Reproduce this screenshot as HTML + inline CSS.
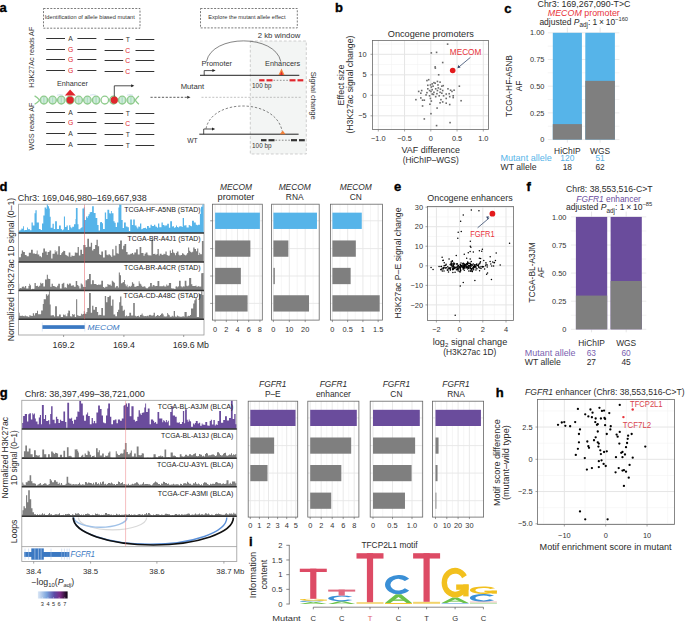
<!DOCTYPE html>
<html><head><meta charset="utf-8"><title>Figure</title>
<style>
html,body{margin:0;padding:0;background:#fff;}
body{width:685px;height:621px;overflow:hidden;}
svg{display:block;font-family:"Liberation Sans",sans-serif;}
</style></head>
<body>
<svg width="685" height="621" viewBox="0 0 685 621">
<rect width="685" height="621" fill="#fff"/>
<text x="-0.50" y="12.00" font-size="13" font-weight="bold" fill="#000" stroke="#000" stroke-width="0.35">a</text>
<rect x="43.50" y="8.50" width="96.50" height="19.70" fill="none" stroke="#444" stroke-width="0.7" stroke-dasharray="2 1.4"/>
<text x="44.80" y="19.00" font-size="4.6" fill="#333" textLength="90.00" lengthAdjust="spacingAndGlyphs">Identification of allele biased mutant</text>
<rect x="200.50" y="8.50" width="96.80" height="19.40" fill="none" stroke="#444" stroke-width="0.7" stroke-dasharray="2 1.4"/>
<text x="208.30" y="19.00" font-size="4.6" fill="#333" textLength="77.20" lengthAdjust="spacingAndGlyphs">Explore the mutant allele effect</text>
<text x="34.20" y="57.20" font-size="7.4" text-anchor="middle" fill="#333" textLength="61.00" lengthAdjust="spacingAndGlyphs" transform="rotate(-90 34.20 57.20)">H3K27Ac reads AF</text>
<text x="34.20" y="126.60" font-size="7.4" text-anchor="middle" fill="#333" textLength="48.00" lengthAdjust="spacingAndGlyphs" transform="rotate(-90 34.20 126.60)">WGS reads AF</text>
<line x1="46.20" y1="38.50" x2="65.00" y2="38.50" stroke="#333" stroke-width="1.0"/>
<line x1="77.40" y1="38.50" x2="96.40" y2="38.50" stroke="#333" stroke-width="1.0"/>
<line x1="104.60" y1="39.50" x2="123.20" y2="39.50" stroke="#333" stroke-width="1.0"/>
<line x1="135.50" y1="39.50" x2="154.30" y2="39.50" stroke="#333" stroke-width="1.0"/>
<text x="70.60" y="41.00" font-size="6.8" text-anchor="middle" fill="#333">A</text>
<text x="127.80" y="42.00" font-size="6.8" text-anchor="middle" fill="#333">T</text>
<line x1="46.20" y1="49.50" x2="65.00" y2="49.50" stroke="#333" stroke-width="1.0"/>
<line x1="77.40" y1="49.50" x2="96.40" y2="49.50" stroke="#333" stroke-width="1.0"/>
<line x1="104.60" y1="50.50" x2="123.20" y2="50.50" stroke="#333" stroke-width="1.0"/>
<line x1="135.50" y1="50.50" x2="154.30" y2="50.50" stroke="#333" stroke-width="1.0"/>
<text x="70.60" y="52.00" font-size="6.8" text-anchor="middle" fill="#e0262d">G</text>
<text x="127.80" y="53.00" font-size="6.8" text-anchor="middle" fill="#e0262d">C</text>
<line x1="46.20" y1="59.50" x2="65.00" y2="59.50" stroke="#333" stroke-width="1.0"/>
<line x1="77.40" y1="59.50" x2="96.40" y2="59.50" stroke="#333" stroke-width="1.0"/>
<line x1="104.60" y1="60.50" x2="123.20" y2="60.50" stroke="#333" stroke-width="1.0"/>
<line x1="135.50" y1="60.50" x2="154.30" y2="60.50" stroke="#333" stroke-width="1.0"/>
<text x="70.60" y="62.00" font-size="6.8" text-anchor="middle" fill="#e0262d">G</text>
<text x="127.80" y="63.00" font-size="6.8" text-anchor="middle" fill="#e0262d">C</text>
<line x1="46.20" y1="70.50" x2="65.00" y2="70.50" stroke="#333" stroke-width="1.0"/>
<line x1="77.40" y1="70.50" x2="96.40" y2="70.50" stroke="#333" stroke-width="1.0"/>
<line x1="104.60" y1="71.50" x2="123.20" y2="71.50" stroke="#333" stroke-width="1.0"/>
<line x1="135.50" y1="71.50" x2="154.30" y2="71.50" stroke="#333" stroke-width="1.0"/>
<text x="70.60" y="73.00" font-size="6.8" text-anchor="middle" fill="#e0262d">G</text>
<text x="127.80" y="74.00" font-size="6.8" text-anchor="middle" fill="#e0262d">C</text>
<line x1="46.20" y1="112.50" x2="65.00" y2="112.50" stroke="#333" stroke-width="1.0"/>
<line x1="77.40" y1="112.50" x2="96.40" y2="112.50" stroke="#333" stroke-width="1.0"/>
<line x1="104.60" y1="113.50" x2="123.20" y2="113.50" stroke="#333" stroke-width="1.0"/>
<line x1="135.50" y1="113.50" x2="154.30" y2="113.50" stroke="#333" stroke-width="1.0"/>
<text x="70.60" y="115.00" font-size="6.8" text-anchor="middle" fill="#333">A</text>
<text x="127.80" y="116.00" font-size="6.8" text-anchor="middle" fill="#333">T</text>
<line x1="46.20" y1="122.50" x2="65.00" y2="122.50" stroke="#333" stroke-width="1.0"/>
<line x1="77.40" y1="122.50" x2="96.40" y2="122.50" stroke="#333" stroke-width="1.0"/>
<line x1="104.60" y1="123.50" x2="123.20" y2="123.50" stroke="#333" stroke-width="1.0"/>
<line x1="135.50" y1="123.50" x2="154.30" y2="123.50" stroke="#333" stroke-width="1.0"/>
<text x="70.60" y="125.00" font-size="6.8" text-anchor="middle" fill="#e0262d">G</text>
<text x="127.80" y="126.00" font-size="6.8" text-anchor="middle" fill="#e0262d">C</text>
<line x1="46.20" y1="133.50" x2="65.00" y2="133.50" stroke="#333" stroke-width="1.0"/>
<line x1="77.40" y1="133.50" x2="96.40" y2="133.50" stroke="#333" stroke-width="1.0"/>
<line x1="104.60" y1="134.50" x2="123.20" y2="134.50" stroke="#333" stroke-width="1.0"/>
<line x1="135.50" y1="134.50" x2="154.30" y2="134.50" stroke="#333" stroke-width="1.0"/>
<text x="70.60" y="136.00" font-size="6.8" text-anchor="middle" fill="#333">A</text>
<text x="127.80" y="137.00" font-size="6.8" text-anchor="middle" fill="#333">T</text>
<line x1="46.20" y1="144.50" x2="65.00" y2="144.50" stroke="#333" stroke-width="1.0"/>
<line x1="77.40" y1="144.50" x2="96.40" y2="144.50" stroke="#333" stroke-width="1.0"/>
<line x1="104.60" y1="145.50" x2="123.20" y2="145.50" stroke="#333" stroke-width="1.0"/>
<line x1="135.50" y1="145.50" x2="154.30" y2="145.50" stroke="#333" stroke-width="1.0"/>
<text x="70.60" y="147.00" font-size="6.8" text-anchor="middle" fill="#333">A</text>
<text x="127.80" y="148.00" font-size="6.8" text-anchor="middle" fill="#333">T</text>
<text x="72.40" y="86.20" font-size="7.4" text-anchor="middle" fill="#333" textLength="31.00" lengthAdjust="spacingAndGlyphs">Enhancer</text>
<ellipse cx="43.90" cy="100.1" rx="3.75" ry="3.9" fill="#bfe4cc" stroke="#8fcb8c" stroke-width="1.3"/>
<line x1="42.50" y1="97.50" x2="42.50" y2="102.70" stroke="#e6f5ea" stroke-width="0.6"/>
<line x1="43.90" y1="97.50" x2="43.90" y2="102.70" stroke="#9fd6c2" stroke-width="0.6"/>
<line x1="45.30" y1="97.50" x2="45.30" y2="102.70" stroke="#e6f5ea" stroke-width="0.6"/>
<ellipse cx="52.60" cy="100.1" rx="3.75" ry="3.9" fill="#bfe4cc" stroke="#8fcb8c" stroke-width="1.3"/>
<line x1="51.20" y1="97.50" x2="51.20" y2="102.70" stroke="#e6f5ea" stroke-width="0.6"/>
<line x1="52.60" y1="97.50" x2="52.60" y2="102.70" stroke="#9fd6c2" stroke-width="0.6"/>
<line x1="54.00" y1="97.50" x2="54.00" y2="102.70" stroke="#e6f5ea" stroke-width="0.6"/>
<ellipse cx="61.30" cy="100.1" rx="3.75" ry="3.9" fill="#bfe4cc" stroke="#8fcb8c" stroke-width="1.3"/>
<line x1="59.90" y1="97.50" x2="59.90" y2="102.70" stroke="#e6f5ea" stroke-width="0.6"/>
<line x1="61.30" y1="97.50" x2="61.30" y2="102.70" stroke="#9fd6c2" stroke-width="0.6"/>
<line x1="62.70" y1="97.50" x2="62.70" y2="102.70" stroke="#e6f5ea" stroke-width="0.6"/>
<ellipse cx="70.00" cy="100.1" rx="3.75" ry="3.9" fill="#bfe4cc" stroke="#8fcb8c" stroke-width="1.3"/>
<line x1="68.60" y1="97.50" x2="68.60" y2="102.70" stroke="#e6f5ea" stroke-width="0.6"/>
<line x1="70.00" y1="97.50" x2="70.00" y2="102.70" stroke="#9fd6c2" stroke-width="0.6"/>
<line x1="71.40" y1="97.50" x2="71.40" y2="102.70" stroke="#e6f5ea" stroke-width="0.6"/>
<ellipse cx="78.70" cy="100.1" rx="3.75" ry="3.9" fill="#bfe4cc" stroke="#8fcb8c" stroke-width="1.3"/>
<line x1="77.30" y1="97.50" x2="77.30" y2="102.70" stroke="#e6f5ea" stroke-width="0.6"/>
<line x1="78.70" y1="97.50" x2="78.70" y2="102.70" stroke="#9fd6c2" stroke-width="0.6"/>
<line x1="80.10" y1="97.50" x2="80.10" y2="102.70" stroke="#e6f5ea" stroke-width="0.6"/>
<ellipse cx="87.40" cy="100.1" rx="3.75" ry="3.9" fill="#bfe4cc" stroke="#8fcb8c" stroke-width="1.3"/>
<line x1="86.00" y1="97.50" x2="86.00" y2="102.70" stroke="#e6f5ea" stroke-width="0.6"/>
<line x1="87.40" y1="97.50" x2="87.40" y2="102.70" stroke="#9fd6c2" stroke-width="0.6"/>
<line x1="88.80" y1="97.50" x2="88.80" y2="102.70" stroke="#e6f5ea" stroke-width="0.6"/>
<ellipse cx="96.10" cy="100.1" rx="3.75" ry="3.9" fill="#bfe4cc" stroke="#8fcb8c" stroke-width="1.3"/>
<line x1="94.70" y1="97.50" x2="94.70" y2="102.70" stroke="#e6f5ea" stroke-width="0.6"/>
<line x1="96.10" y1="97.50" x2="96.10" y2="102.70" stroke="#9fd6c2" stroke-width="0.6"/>
<line x1="97.50" y1="97.50" x2="97.50" y2="102.70" stroke="#e6f5ea" stroke-width="0.6"/>
<ellipse cx="104.80" cy="100.1" rx="3.75" ry="3.9" fill="#ffffff" stroke="#8fcb8c" stroke-width="1.3"/>
<ellipse cx="113.50" cy="100.1" rx="3.75" ry="3.9" fill="#bfe4cc" stroke="#8fcb8c" stroke-width="1.3"/>
<line x1="112.10" y1="97.50" x2="112.10" y2="102.70" stroke="#e6f5ea" stroke-width="0.6"/>
<line x1="113.50" y1="97.50" x2="113.50" y2="102.70" stroke="#9fd6c2" stroke-width="0.6"/>
<line x1="114.90" y1="97.50" x2="114.90" y2="102.70" stroke="#e6f5ea" stroke-width="0.6"/>
<ellipse cx="122.20" cy="100.1" rx="3.75" ry="3.9" fill="#bfe4cc" stroke="#8fcb8c" stroke-width="1.3"/>
<line x1="120.80" y1="97.50" x2="120.80" y2="102.70" stroke="#e6f5ea" stroke-width="0.6"/>
<line x1="122.20" y1="97.50" x2="122.20" y2="102.70" stroke="#9fd6c2" stroke-width="0.6"/>
<line x1="123.60" y1="97.50" x2="123.60" y2="102.70" stroke="#e6f5ea" stroke-width="0.6"/>
<ellipse cx="130.90" cy="100.1" rx="3.75" ry="3.9" fill="#bfe4cc" stroke="#8fcb8c" stroke-width="1.3"/>
<line x1="129.50" y1="97.50" x2="129.50" y2="102.70" stroke="#e6f5ea" stroke-width="0.6"/>
<line x1="130.90" y1="97.50" x2="130.90" y2="102.70" stroke="#9fd6c2" stroke-width="0.6"/>
<line x1="132.30" y1="97.50" x2="132.30" y2="102.70" stroke="#e6f5ea" stroke-width="0.6"/>
<path d="M34.6 95.9 Q37.6 97.6 39.6 100.1 Q37.6 102.6 34.6 104.3" fill="none" stroke="#8fcb8c" stroke-width="1.3"/>
<path d="M138.9 95.9 Q136.9 97.6 135.2 100.1 Q136.9 102.6 138.9 104.3" fill="none" stroke="#8fcb8c" stroke-width="1.3"/>
<path d="M57 95.2 Q60 94.2 63 95.2" fill="none" stroke="#b9cfe6" stroke-width="0.6"/>
<path d="M90 95.2 Q93 94.2 96 95.2" fill="none" stroke="#b9cfe6" stroke-width="0.6"/>
<path d="M127 95.2 Q130 94.2 133 95.2" fill="none" stroke="#b9cfe6" stroke-width="0.6"/>
<path d="M70.1 89.6 L64.9 95.6 L75.7 95.6 Z" fill="#e0262d"/>
<circle cx="70.10" cy="100.10" r="3.6" fill="#e0262d"/>
<circle cx="114.30" cy="100.10" r="3.6" fill="#e0262d"/>
<path d="M114.3 96.5 L114.3 85.8 L132.5 85.8" fill="none" stroke="#222" stroke-width="0.8"/>
<path d="M134.3 85.8 L131.2 84.3 L131.2 87.3 Z" fill="#222"/>
<line x1="150.50" y1="97.30" x2="187.50" y2="97.30" stroke="#333" stroke-width="0.8" stroke-dasharray="2.2 1.6"/>
<path d="M190.5 97.3 L187.2 95.8 L187.2 98.8 Z" fill="#333"/>
<rect x="250.30" y="41.00" width="56.00" height="113.00" fill="#f3f5f4" stroke="#bbb" stroke-width="0.7" stroke-dasharray="2.8 2"/>
<line x1="201.50" y1="97.30" x2="301.00" y2="97.30" stroke="#999" stroke-width="0.6" stroke-dasharray="2 1.6"/>
<text x="279.00" y="38.30" font-size="7.4" text-anchor="middle" fill="#333" textLength="42.50" lengthAdjust="spacingAndGlyphs">2 kb window</text>
<text x="310.80" y="95.80" font-size="7.2" text-anchor="middle" fill="#333" textLength="48.00" lengthAdjust="spacingAndGlyphs" transform="rotate(90 310.80 95.80)">Signal change</text>
<text x="192.40" y="89.00" font-size="7.2" text-anchor="middle" fill="#333" textLength="23.50" lengthAdjust="spacingAndGlyphs">Mutant</text>
<text x="192.40" y="143.30" font-size="7.2" text-anchor="middle" fill="#333" textLength="10.50" lengthAdjust="spacingAndGlyphs">WT</text>
<text x="216.80" y="65.80" font-size="7.4" text-anchor="middle" fill="#333" textLength="30.50" lengthAdjust="spacingAndGlyphs">Promoter</text>
<text x="282.60" y="65.80" font-size="7.4" text-anchor="middle" fill="#333" textLength="35.00" lengthAdjust="spacingAndGlyphs">Enhancers</text>
<path d="M206.5 61.5 C 212 34, 275 34, 280.8 61.5" fill="none" stroke="#333" stroke-width="0.6"/>
<line x1="200.00" y1="75.30" x2="299.30" y2="75.30" stroke="#222" stroke-width="1.0"/>
<path d="M204.2 75.3 L204.2 70.6 L213.2 70.6" fill="none" stroke="#222" stroke-width="0.8"/>
<path d="M215.6 70.6 L212.4 69.1 L212.4 72.1 Z" fill="#222"/>
<path d="M281.5 68.5 L278.5 75.0 L284.5 75.0 Z" fill="#f0813a"/>
<path d="M281.5 71.2 L280.1 75.0 L282.9 75.0 Z" fill="#e0262d"/>
<line x1="259.20" y1="80.30" x2="264.50" y2="80.30" stroke="#e0262d" stroke-width="2.2"/>
<line x1="266.50" y1="80.30" x2="272.50" y2="80.30" stroke="#e0262d" stroke-width="2.2"/>
<line x1="289.50" y1="80.30" x2="295.50" y2="80.30" stroke="#e0262d" stroke-width="2.2"/>
<line x1="297.50" y1="80.30" x2="303.30" y2="80.30" stroke="#e0262d" stroke-width="2.2"/>
<line x1="273.50" y1="80.30" x2="288.50" y2="80.30" stroke="#666" stroke-width="0.7" stroke-dasharray="1.6 1.6"/>
<text x="261.80" y="87.80" font-size="6.4" text-anchor="middle" fill="#333" textLength="19.50" lengthAdjust="spacingAndGlyphs">100 bp</text>
<path d="M206.0 128.7 C 212 98, 276 98, 282.2 131.4" fill="none" stroke="#333" stroke-width="0.6" stroke-dasharray="2.4 1.8"/>
<line x1="199.30" y1="134.20" x2="298.60" y2="134.20" stroke="#222" stroke-width="1.0"/>
<path d="M203.7 134.2 L203.7 129.0 L212.8 129.0" fill="none" stroke="#222" stroke-width="0.8"/>
<path d="M215.2 129.0 L212.0 127.5 L212.0 130.5 Z" fill="#222"/>
<path d="M282.7 130.6 L279.8 134.2 L285.6 134.2 Z" fill="#f0813a"/>
<line x1="261.00" y1="140.20" x2="266.50" y2="140.20" stroke="#333" stroke-width="2.2"/>
<line x1="268.50" y1="140.20" x2="274.50" y2="140.20" stroke="#333" stroke-width="2.2"/>
<line x1="291.00" y1="140.20" x2="297.00" y2="140.20" stroke="#333" stroke-width="2.2"/>
<line x1="299.00" y1="140.20" x2="304.80" y2="140.20" stroke="#333" stroke-width="2.2"/>
<line x1="275.50" y1="140.20" x2="290.00" y2="140.20" stroke="#555" stroke-width="0.7" stroke-dasharray="1.6 1.6"/>
<text x="261.80" y="147.60" font-size="6.4" text-anchor="middle" fill="#333" textLength="19.50" lengthAdjust="spacingAndGlyphs">100 bp</text>
<text x="335.00" y="12.20" font-size="13" font-weight="bold" fill="#000" stroke="#000" stroke-width="0.35">b</text>
<text x="430.80" y="36.80" font-size="8.8" text-anchor="middle" fill="#2b2b2b" textLength="86.00" lengthAdjust="spacingAndGlyphs">Oncogene promoters</text>
<rect x="372.50" y="40.50" width="116.00" height="89.00" fill="#fff"/>
<line x1="391.43" y1="40.50" x2="391.43" y2="129.50" stroke="#f2f2f2" stroke-width="0.6"/>
<line x1="417.68" y1="40.50" x2="417.68" y2="129.50" stroke="#f2f2f2" stroke-width="0.6"/>
<line x1="443.93" y1="40.50" x2="443.93" y2="129.50" stroke="#f2f2f2" stroke-width="0.6"/>
<line x1="470.18" y1="40.50" x2="470.18" y2="129.50" stroke="#f2f2f2" stroke-width="0.6"/>
<line x1="372.50" y1="44.05" x2="488.50" y2="44.05" stroke="#f2f2f2" stroke-width="0.6"/>
<line x1="372.50" y1="64.55" x2="488.50" y2="64.55" stroke="#f2f2f2" stroke-width="0.6"/>
<line x1="372.50" y1="85.05" x2="488.50" y2="85.05" stroke="#f2f2f2" stroke-width="0.6"/>
<line x1="372.50" y1="105.55" x2="488.50" y2="105.55" stroke="#f2f2f2" stroke-width="0.6"/>
<line x1="372.50" y1="126.05" x2="488.50" y2="126.05" stroke="#f2f2f2" stroke-width="0.6"/>
<line x1="378.30" y1="40.50" x2="378.30" y2="129.50" stroke="#e5e5e5" stroke-width="1.0"/>
<line x1="404.55" y1="40.50" x2="404.55" y2="129.50" stroke="#e5e5e5" stroke-width="1.0"/>
<line x1="430.80" y1="40.50" x2="430.80" y2="129.50" stroke="#e5e5e5" stroke-width="1.0"/>
<line x1="457.05" y1="40.50" x2="457.05" y2="129.50" stroke="#e5e5e5" stroke-width="1.0"/>
<line x1="483.30" y1="40.50" x2="483.30" y2="129.50" stroke="#e5e5e5" stroke-width="1.0"/>
<line x1="372.50" y1="54.30" x2="488.50" y2="54.30" stroke="#e5e5e5" stroke-width="1.0"/>
<line x1="372.50" y1="74.80" x2="488.50" y2="74.80" stroke="#e5e5e5" stroke-width="1.0"/>
<line x1="372.50" y1="95.30" x2="488.50" y2="95.30" stroke="#e5e5e5" stroke-width="1.0"/>
<line x1="372.50" y1="115.80" x2="488.50" y2="115.80" stroke="#e5e5e5" stroke-width="1.0"/>
<rect x="446.81" y="43.33" width="1.60" height="1.60" fill="#6b6b6b"/>
<rect x="430.52" y="52.09" width="1.60" height="1.60" fill="#6b6b6b"/>
<rect x="435.77" y="51.57" width="1.60" height="1.60" fill="#6b6b6b"/>
<rect x="441.90" y="61.73" width="1.60" height="1.60" fill="#6b6b6b"/>
<rect x="434.37" y="66.11" width="1.60" height="1.60" fill="#6b6b6b"/>
<rect x="434.55" y="67.33" width="1.60" height="1.60" fill="#6b6b6b"/>
<rect x="437.88" y="73.99" width="1.60" height="1.60" fill="#6b6b6b"/>
<rect x="426.14" y="79.77" width="1.60" height="1.60" fill="#6b6b6b"/>
<rect x="427.89" y="78.90" width="1.60" height="1.60" fill="#6b6b6b"/>
<rect x="429.64" y="84.15" width="1.60" height="1.60" fill="#6b6b6b"/>
<rect x="431.39" y="83.10" width="1.60" height="1.60" fill="#6b6b6b"/>
<rect x="434.37" y="82.40" width="1.60" height="1.60" fill="#6b6b6b"/>
<rect x="436.65" y="80.65" width="1.60" height="1.60" fill="#6b6b6b"/>
<rect x="439.28" y="81.35" width="1.60" height="1.60" fill="#6b6b6b"/>
<rect x="430.52" y="86.25" width="1.60" height="1.60" fill="#6b6b6b"/>
<rect x="432.27" y="85.38" width="1.60" height="1.60" fill="#6b6b6b"/>
<rect x="434.90" y="88.01" width="1.60" height="1.60" fill="#6b6b6b"/>
<rect x="437.53" y="87.13" width="1.60" height="1.60" fill="#6b6b6b"/>
<rect x="441.03" y="85.38" width="1.60" height="1.60" fill="#6b6b6b"/>
<rect x="442.43" y="84.85" width="1.60" height="1.60" fill="#6b6b6b"/>
<rect x="427.01" y="88.01" width="1.60" height="1.60" fill="#6b6b6b"/>
<rect x="428.77" y="89.76" width="1.60" height="1.60" fill="#6b6b6b"/>
<rect x="431.39" y="88.88" width="1.60" height="1.60" fill="#6b6b6b"/>
<rect x="433.15" y="91.51" width="1.60" height="1.60" fill="#6b6b6b"/>
<rect x="436.65" y="89.76" width="1.60" height="1.60" fill="#6b6b6b"/>
<rect x="439.28" y="91.51" width="1.60" height="1.60" fill="#6b6b6b"/>
<rect x="441.90" y="89.76" width="1.60" height="1.60" fill="#6b6b6b"/>
<rect x="447.16" y="88.01" width="1.60" height="1.60" fill="#6b6b6b"/>
<rect x="449.79" y="89.41" width="1.60" height="1.60" fill="#6b6b6b"/>
<rect x="453.29" y="89.41" width="1.60" height="1.60" fill="#6b6b6b"/>
<rect x="458.55" y="85.38" width="1.60" height="1.60" fill="#6b6b6b"/>
<rect x="417.90" y="90.63" width="1.60" height="1.60" fill="#6b6b6b"/>
<rect x="420.88" y="89.76" width="1.60" height="1.60" fill="#6b6b6b"/>
<rect x="420.01" y="92.39" width="1.60" height="1.60" fill="#6b6b6b"/>
<rect x="425.26" y="94.14" width="1.60" height="1.60" fill="#6b6b6b"/>
<rect x="428.77" y="95.01" width="1.60" height="1.60" fill="#6b6b6b"/>
<rect x="431.39" y="93.26" width="1.60" height="1.60" fill="#6b6b6b"/>
<rect x="434.90" y="95.89" width="1.60" height="1.60" fill="#6b6b6b"/>
<rect x="438.40" y="95.01" width="1.60" height="1.60" fill="#6b6b6b"/>
<rect x="441.03" y="92.39" width="1.60" height="1.60" fill="#6b6b6b"/>
<rect x="445.41" y="93.26" width="1.60" height="1.60" fill="#6b6b6b"/>
<rect x="448.91" y="95.89" width="1.60" height="1.60" fill="#6b6b6b"/>
<rect x="452.42" y="95.01" width="1.60" height="1.60" fill="#6b6b6b"/>
<rect x="452.42" y="96.77" width="1.60" height="1.60" fill="#6b6b6b"/>
<rect x="415.10" y="98.87" width="1.60" height="1.60" fill="#6b6b6b"/>
<rect x="420.01" y="97.12" width="1.60" height="1.60" fill="#6b6b6b"/>
<rect x="421.76" y="99.39" width="1.60" height="1.60" fill="#6b6b6b"/>
<rect x="423.51" y="99.39" width="1.60" height="1.60" fill="#6b6b6b"/>
<rect x="429.64" y="97.64" width="1.60" height="1.60" fill="#6b6b6b"/>
<rect x="430.52" y="100.27" width="1.60" height="1.60" fill="#6b6b6b"/>
<rect x="440.15" y="98.87" width="1.60" height="1.60" fill="#6b6b6b"/>
<rect x="441.90" y="101.15" width="1.60" height="1.60" fill="#6b6b6b"/>
<rect x="445.41" y="97.64" width="1.60" height="1.60" fill="#6b6b6b"/>
<rect x="439.28" y="102.02" width="1.60" height="1.60" fill="#6b6b6b"/>
<rect x="445.41" y="102.37" width="1.60" height="1.60" fill="#6b6b6b"/>
<rect x="448.91" y="103.77" width="1.60" height="1.60" fill="#6b6b6b"/>
<rect x="460.30" y="99.92" width="1.60" height="1.60" fill="#6b6b6b"/>
<rect x="421.76" y="105.17" width="1.60" height="1.60" fill="#6b6b6b"/>
<rect x="429.12" y="103.42" width="1.60" height="1.60" fill="#6b6b6b"/>
<rect x="436.30" y="107.28" width="1.60" height="1.60" fill="#6b6b6b"/>
<rect x="430.17" y="112.88" width="1.60" height="1.60" fill="#6b6b6b"/>
<rect x="423.51" y="118.14" width="1.60" height="1.60" fill="#6b6b6b"/>
<rect x="449.26" y="121.82" width="1.60" height="1.60" fill="#6b6b6b"/>
<rect x="435.77" y="124.80" width="1.60" height="1.60" fill="#6b6b6b"/>
<rect x="427.01" y="84.50" width="1.60" height="1.60" fill="#6b6b6b"/>
<rect x="433.15" y="81.87" width="1.60" height="1.60" fill="#6b6b6b"/>
<rect x="437.17" y="84.15" width="1.60" height="1.60" fill="#6b6b6b"/>
<rect x="439.63" y="88.36" width="1.60" height="1.60" fill="#6b6b6b"/>
<rect x="430.17" y="90.63" width="1.60" height="1.60" fill="#6b6b6b"/>
<rect x="432.62" y="93.61" width="1.60" height="1.60" fill="#6b6b6b"/>
<rect x="426.14" y="91.86" width="1.60" height="1.60" fill="#6b6b6b"/>
<rect x="436.12" y="92.91" width="1.60" height="1.60" fill="#6b6b6b"/>
<rect x="451.19" y="90.63" width="1.60" height="1.60" fill="#6b6b6b"/>
<rect x="448.39" y="92.91" width="1.60" height="1.60" fill="#6b6b6b"/>
<rect x="442.78" y="95.01" width="1.60" height="1.60" fill="#6b6b6b"/>
<rect x="372.50" y="40.50" width="116.00" height="89.00" fill="none" stroke="#6a6a6a" stroke-width="0.8"/>
<line x1="378.30" y1="129.50" x2="378.30" y2="131.50" stroke="#6a6a6a" stroke-width="0.6"/>
<text x="378.30" y="140.90" font-size="7.4" text-anchor="middle" fill="#333">−1.0</text>
<line x1="404.55" y1="129.50" x2="404.55" y2="131.50" stroke="#6a6a6a" stroke-width="0.6"/>
<text x="404.55" y="140.90" font-size="7.4" text-anchor="middle" fill="#333">−0.5</text>
<line x1="430.80" y1="129.50" x2="430.80" y2="131.50" stroke="#6a6a6a" stroke-width="0.6"/>
<text x="430.80" y="140.90" font-size="7.4" text-anchor="middle" fill="#333">0</text>
<line x1="457.05" y1="129.50" x2="457.05" y2="131.50" stroke="#6a6a6a" stroke-width="0.6"/>
<text x="457.05" y="140.90" font-size="7.4" text-anchor="middle" fill="#333">0.5</text>
<line x1="483.30" y1="129.50" x2="483.30" y2="131.50" stroke="#6a6a6a" stroke-width="0.6"/>
<text x="483.30" y="140.90" font-size="7.4" text-anchor="middle" fill="#333">1.0</text>
<line x1="370.50" y1="54.30" x2="372.50" y2="54.30" stroke="#6a6a6a" stroke-width="0.6"/>
<text x="366.60" y="56.90" font-size="7.4" text-anchor="end" fill="#333">10</text>
<line x1="370.50" y1="74.80" x2="372.50" y2="74.80" stroke="#6a6a6a" stroke-width="0.6"/>
<text x="366.60" y="77.40" font-size="7.4" text-anchor="end" fill="#333">5</text>
<line x1="370.50" y1="95.30" x2="372.50" y2="95.30" stroke="#6a6a6a" stroke-width="0.6"/>
<text x="366.60" y="97.90" font-size="7.4" text-anchor="end" fill="#333">0</text>
<line x1="370.50" y1="115.80" x2="372.50" y2="115.80" stroke="#6a6a6a" stroke-width="0.6"/>
<text x="366.60" y="118.40" font-size="7.4" text-anchor="end" fill="#333">−5</text>
<text x="430.80" y="153.40" font-size="8.8" text-anchor="middle" fill="#2b2b2b" textLength="58.50" lengthAdjust="spacingAndGlyphs">VAF difference</text>
<text x="430.80" y="162.60" font-size="8.8" text-anchor="middle" fill="#2b2b2b" textLength="56.00" lengthAdjust="spacingAndGlyphs">(HiChIP–WGS)</text>
<text x="343.60" y="85.00" font-size="8.8" text-anchor="middle" fill="#2b2b2b" textLength="40.80" lengthAdjust="spacingAndGlyphs" transform="rotate(-90 343.60 85.00)">Effect size</text>
<text x="352.60" y="84.60" font-size="8.8" text-anchor="middle" fill="#2b2b2b" textLength="98.00" lengthAdjust="spacingAndGlyphs" transform="rotate(-90 352.60 84.60)">(H3K27ac signal change)</text>
<circle cx="452.70" cy="70.50" r="2.8" fill="#e31a1c"/>
<path d="M470.4 57.4 L459.0 66.9" fill="none" stroke="#34476b" stroke-width="0.8"/>
<path d="M457.4 68.2 L458.3 64.9 L460.6 67.6 Z" fill="#34476b"/>
<text x="465.60" y="54.80" font-size="8.6" text-anchor="middle" fill="#e8333b" textLength="31.50" lengthAdjust="spacingAndGlyphs">MECOM</text>
<text x="504.20" y="12.50" font-size="13" font-weight="bold" fill="#000" stroke="#000" stroke-width="0.35">c</text>
<text x="584.00" y="7.00" font-size="8.6" text-anchor="middle" fill="#2b2b2b" textLength="93.00" lengthAdjust="spacingAndGlyphs">Chr3: 169,267,090-T&gt;C</text>
<text x="583.8" y="16.3" font-size="8.6" text-anchor="middle" textLength="72" lengthAdjust="spacingAndGlyphs" fill="#e8333b"><tspan font-style="italic">MECOM</tspan> promoter</text>
<text x="539.4" y="24.5" font-size="8.6" fill="#2b2b2b" textLength="88.6" lengthAdjust="spacingAndGlyphs">adjusted <tspan font-style="italic">P</tspan><tspan font-size="6.4" dy="2.8">adj</tspan><tspan dy="-2.8">: 1 × 10</tspan><tspan font-size="5.8" dy="-3.5">−160</tspan></text>
<line x1="547.80" y1="139.60" x2="619.40" y2="139.60" stroke="#ececec" stroke-width="1.0"/>
<line x1="547.80" y1="126.25" x2="619.40" y2="126.25" stroke="#ececec" stroke-width="0.6"/>
<line x1="547.80" y1="112.90" x2="619.40" y2="112.90" stroke="#ececec" stroke-width="1.0"/>
<line x1="547.80" y1="99.55" x2="619.40" y2="99.55" stroke="#ececec" stroke-width="0.6"/>
<line x1="547.80" y1="86.20" x2="619.40" y2="86.20" stroke="#ececec" stroke-width="1.0"/>
<line x1="547.80" y1="72.85" x2="619.40" y2="72.85" stroke="#ececec" stroke-width="0.6"/>
<line x1="547.80" y1="59.50" x2="619.40" y2="59.50" stroke="#ececec" stroke-width="1.0"/>
<line x1="547.80" y1="46.15" x2="619.40" y2="46.15" stroke="#ececec" stroke-width="0.6"/>
<line x1="547.80" y1="32.80" x2="619.40" y2="32.80" stroke="#ececec" stroke-width="1.0"/>
<line x1="567.35" y1="27.50" x2="567.35" y2="142.60" stroke="#e6e6e6" stroke-width="1.0"/>
<line x1="600.10" y1="27.50" x2="600.10" y2="142.60" stroke="#e6e6e6" stroke-width="1.0"/>
<rect x="552.80" y="32.80" width="29.10" height="106.80" fill="#56b4e9"/>
<rect x="552.80" y="124.11" width="29.10" height="15.49" fill="#7f7f7f"/>
<rect x="585.30" y="32.80" width="29.60" height="106.80" fill="#56b4e9"/>
<rect x="585.30" y="80.86" width="29.60" height="58.74" fill="#7f7f7f"/>
<text x="544.40" y="142.20" font-size="7.4" text-anchor="end" fill="#333">0</text>
<text x="544.40" y="115.50" font-size="7.4" text-anchor="end" fill="#333">0.25</text>
<text x="544.40" y="88.80" font-size="7.4" text-anchor="end" fill="#333">0.50</text>
<text x="544.40" y="62.10" font-size="7.4" text-anchor="end" fill="#333">0.75</text>
<text x="544.40" y="35.40" font-size="7.4" text-anchor="end" fill="#333">1.00</text>
<text x="511.80" y="86.00" font-size="8.4" text-anchor="middle" fill="#2b2b2b" transform="rotate(-90 511.80 86.00)">TCGA-HF-A5NB</text>
<text x="522.40" y="86.00" font-size="8.4" text-anchor="middle" fill="#2b2b2b" transform="rotate(-90 522.40 86.00)">AF</text>
<text x="567.35" y="154.00" font-size="8.4" text-anchor="middle" fill="#2b2b2b">HiChIP</text>
<text x="600.10" y="154.00" font-size="8.4" text-anchor="middle" fill="#2b2b2b">WGS</text>
<text x="526.20" y="160.80" font-size="8.4" text-anchor="middle" fill="#56b4e9" textLength="51.50" lengthAdjust="spacingAndGlyphs">Mutant allele</text>
<text x="567.35" y="160.80" font-size="8.4" text-anchor="middle" fill="#56b4e9">120</text>
<text x="600.10" y="160.80" font-size="8.4" text-anchor="middle" fill="#56b4e9">51</text>
<text x="500.50" y="169.60" font-size="8.4" fill="#2b2b2b" textLength="36.00" lengthAdjust="spacingAndGlyphs">WT allele</text>
<text x="567.35" y="169.60" font-size="8.4" text-anchor="middle" fill="#2b2b2b">18</text>
<text x="600.10" y="169.60" font-size="8.4" text-anchor="middle" fill="#2b2b2b">62</text>
<text x="-0.40" y="190.80" font-size="13" font-weight="bold" fill="#000" stroke="#000" stroke-width="0.35">d</text>
<text x="17.70" y="201.20" font-size="8.8" fill="#2b2b2b" textLength="129.00" lengthAdjust="spacingAndGlyphs">Chr3: 169,046,980–169,667,938</text>
<rect x="18.60" y="204.20" width="185.40" height="130.80" fill="#fff" stroke="#9a9a9a" stroke-width="0.8"/>
<path d="M19.00 233.00 L19.00 230.40 L20.50 230.40 L20.50 229.73 L21.37 229.73 L21.37 228.50 L22.23 228.50 L22.23 228.65 L23.10 228.65 L23.10 226.20 L24.00 226.20 L24.00 230.32 L25.03 230.32 L25.03 230.01 L26.07 230.01 L26.07 230.07 L27.10 230.07 L27.10 227.60 L28.00 227.60 L28.00 229.27 L28.88 229.27 L28.88 229.06 L29.75 229.06 L29.75 230.13 L30.62 230.13 L30.62 230.23 L31.50 230.23 L31.50 222.50 L32.80 222.50 L32.80 225.60 L34.50 225.60 L34.50 213.30 L35.40 213.30 L35.40 210.20 L36.70 210.20 L36.70 222.50 L38.90 222.50 L38.90 229.00 L40.60 229.00 L40.60 230.00 L42.00 230.00 L42.00 223.40 L43.30 223.40 L43.30 215.50 L44.60 215.50 L44.60 207.60 L46.30 207.60 L46.30 209.00 L46.80 209.00 L46.80 204.60 L47.90 204.60 L47.90 206.22 L49.00 206.22 L49.00 208.50 L49.80 208.50 L49.80 216.80 L50.70 216.80 L50.70 227.70 L52.50 227.70 L52.50 223.80 L53.80 223.80 L53.80 229.00 L55.10 229.00 L55.10 221.20 L56.90 221.20 L56.90 229.00 L59.00 229.00 L59.00 225.60 L60.80 225.60 L60.80 229.10 L61.83 229.10 L61.83 230.27 L62.87 230.27 L62.87 229.58 L63.90 229.58 L63.90 216.40 L65.00 216.40 L65.00 227.00 L66.50 227.00 L66.50 225.60 L67.80 225.60 L67.80 230.00 L69.10 230.00 L69.10 225.30 L70.40 225.30 L70.40 227.18 L71.30 227.18 L71.30 228.33 L72.20 228.33 L72.20 226.66 L73.10 226.66 L73.10 226.76 L74.00 226.76 L74.00 224.20 L75.50 224.20 L75.50 219.00 L75.90 219.00 L75.90 208.00 L77.60 208.00 L77.60 224.20 L78.50 224.20 L78.50 229.19 L79.47 229.19 L79.47 229.20 L80.45 229.20 L80.45 228.11 L81.43 228.11 L81.43 227.27 L82.40 227.27 L82.40 208.50 L83.80 208.50 L83.80 207.20 L84.60 207.20 L84.60 220.00 L86.00 220.00 L86.00 216.41 L86.87 216.41 L86.87 217.68 L87.73 217.68 L87.73 216.10 L88.60 216.10 L88.60 214.29 L89.70 214.29 L89.70 212.29 L90.80 212.29 L90.80 212.00 L92.10 212.00 L92.10 206.30 L93.80 206.30 L93.80 213.00 L95.60 213.00 L95.60 218.00 L97.30 218.00 L97.30 225.00 L98.60 225.00 L98.60 230.40 L100.00 230.40 L100.00 222.30 L101.00 222.30 L101.00 222.02 L102.00 222.02 L102.00 223.29 L103.00 223.29 L103.00 229.00 L104.80 229.00 L104.80 212.40 L106.10 212.40 L106.10 219.00 L107.40 219.00 L107.40 209.80 L109.20 209.80 L109.20 213.34 L110.07 213.34 L110.07 213.46 L110.93 213.46 L110.93 211.10 L111.80 211.10 L111.80 213.30 L113.50 213.30 L113.50 221.20 L114.60 221.20 L114.60 222.74 L115.70 222.74 L115.70 227.00 L117.00 227.00 L117.00 222.50 L118.40 222.50 L118.40 207.60 L119.20 207.60 L119.20 204.60 L120.30 204.60 L120.30 204.71 L121.40 204.71 L121.40 220.00 L122.70 220.00 L122.70 228.00 L124.00 228.00 L124.00 222.50 L125.80 222.50 L125.80 226.40 L127.50 226.40 L127.50 227.30 L128.90 227.30 L128.90 231.00 L130.20 231.00 L130.20 219.40 L131.90 219.40 L131.90 225.00 L133.20 225.00 L133.20 219.40 L134.80 219.40 L134.80 225.60 L136.50 225.60 L136.50 227.37 L137.38 227.37 L137.38 228.43 L138.25 228.43 L138.25 226.55 L139.12 226.55 L139.12 226.86 L140.00 226.86 L140.00 223.40 L141.30 223.40 L141.30 229.25 L142.25 229.25 L142.25 228.83 L143.20 228.83 L143.20 228.06 L144.15 228.06 L144.15 228.08 L145.10 228.08 L145.10 227.64 L146.05 227.64 L146.05 228.65 L147.00 228.65 L147.00 226.00 L148.80 226.00 L148.80 227.70 L150.50 227.70 L150.50 224.70 L151.80 224.70 L151.80 226.00 L154.00 226.00 L154.00 224.70 L155.30 224.70 L155.30 226.47 L156.20 226.47 L156.20 226.87 L157.10 226.87 L157.10 227.79 L158.00 227.79 L158.00 223.40 L159.30 223.40 L159.30 227.30 L161.50 227.30 L161.50 222.50 L162.80 222.50 L162.80 225.10 L164.50 225.10 L164.50 226.15 L165.40 226.15 L165.40 225.29 L166.30 225.29 L166.30 225.39 L167.20 225.39 L167.20 223.80 L168.90 223.80 L168.90 227.70 L170.20 227.70 L170.20 221.20 L172.00 221.20 L172.00 226.38 L173.00 226.38 L173.00 226.14 L174.00 226.14 L174.00 227.75 L175.00 227.75 L175.00 227.15 L176.00 227.15 L176.00 225.54 L177.00 225.54 L177.00 226.94 L177.95 226.94 L177.95 227.61 L178.90 227.61 L178.90 226.56 L179.85 226.56 L179.85 226.14 L180.80 226.14 L180.80 226.22 L181.75 226.22 L181.75 227.05 L182.70 227.05 L182.70 218.00 L184.00 218.00 L184.00 225.51 L185.25 225.51 L185.25 225.27 L186.50 225.27 L186.50 227.50 L188.70 227.50 L188.70 225.03 L189.80 225.03 L189.80 225.83 L190.90 225.83 L190.90 226.23 L192.00 226.23 L192.00 220.70 L193.90 220.70 L193.90 222.60 L195.80 222.60 L195.80 224.80 L196.90 224.80 L196.90 225.30 L198.00 225.30 L198.00 224.80 L199.90 224.80 L199.90 213.80 L201.00 213.80 L201.00 206.70 L202.40 206.70 L202.40 204.60 L203.60 204.60 L203.60 233.00 Z" fill="#56b4e9"/>
<path d="M19.00 262.00 L19.00 257.20 L20.90 257.20 L20.90 253.70 L21.80 253.70 L21.80 250.60 L23.10 250.60 L23.10 252.00 L24.90 252.00 L24.90 255.00 L26.60 255.00 L26.60 256.30 L28.80 256.30 L28.80 252.80 L31.00 252.80 L31.00 249.70 L32.80 249.70 L32.80 253.60 L33.90 253.60 L33.90 253.62 L35.00 253.62 L35.00 253.95 L35.87 253.95 L35.87 253.83 L36.73 253.83 L36.73 250.52 L37.60 250.52 L37.60 254.60 L39.30 254.60 L39.30 256.15 L40.20 256.15 L40.20 256.30 L41.10 256.30 L41.10 257.15 L42.00 257.15 L42.00 252.80 L43.30 252.80 L43.30 248.40 L45.00 248.40 L45.00 251.50 L46.80 251.50 L46.80 255.00 L47.60 255.00 L47.60 252.00 L49.40 252.00 L49.40 250.60 L51.20 250.60 L51.20 258.50 L52.50 258.50 L52.50 253.73 L53.60 253.73 L53.60 253.73 L54.70 253.73 L54.70 250.19 L55.57 250.19 L55.57 252.31 L56.43 252.31 L56.43 250.95 L57.30 250.95 L57.30 254.60 L58.20 254.60 L58.20 246.20 L59.90 246.20 L59.90 255.00 L61.20 255.00 L61.20 253.23 L62.20 253.23 L62.20 251.90 L63.20 251.90 L63.20 250.80 L64.20 250.80 L64.20 250.98 L65.20 250.98 L65.20 254.86 L66.08 254.86 L66.08 255.17 L66.95 255.17 L66.95 255.71 L67.83 255.71 L67.83 256.43 L68.70 256.43 L68.70 252.40 L70.40 252.40 L70.40 256.77 L71.50 256.77 L71.50 255.50 L72.60 255.50 L72.60 255.93 L73.70 255.93 L73.70 255.75 L74.80 255.75 L74.80 252.40 L75.90 252.40 L75.90 252.80 L77.60 252.80 L77.60 247.10 L78.90 247.10 L78.90 255.40 L80.30 255.40 L80.30 249.70 L82.00 249.70 L82.00 254.10 L83.30 254.10 L83.30 245.00 L84.60 245.00 L84.60 245.00 L85.50 245.00 L85.50 247.34 L86.40 247.34 L86.40 247.11 L87.30 247.11 L87.30 238.80 L89.00 238.80 L89.00 246.70 L90.80 246.70 L90.80 242.70 L92.10 242.70 L92.10 250.60 L93.40 250.60 L93.40 248.90 L95.10 248.90 L95.10 245.00 L96.50 245.00 L96.50 239.70 L97.80 239.70 L97.80 246.20 L99.10 246.20 L99.10 254.22 L100.20 254.22 L100.20 255.04 L101.30 255.04 L101.30 251.50 L103.00 251.50 L103.00 257.60 L104.80 257.60 L104.80 250.20 L106.50 250.20 L106.50 254.71 L107.53 254.71 L107.53 255.36 L108.57 255.36 L108.57 254.06 L109.60 254.06 L109.60 255.05 L110.47 255.05 L110.47 255.86 L111.33 255.86 L111.33 257.10 L112.20 257.10 L112.20 249.30 L113.50 249.30 L113.50 255.40 L115.30 255.40 L115.30 245.80 L116.60 245.80 L116.60 253.32 L117.70 253.32 L117.70 253.63 L118.80 253.63 L118.80 244.00 L120.10 244.00 L120.10 240.50 L121.90 240.50 L121.90 249.30 L123.20 249.30 L123.20 245.80 L124.50 245.80 L124.50 244.00 L126.20 244.00 L126.20 252.00 L127.60 252.00 L127.60 254.72 L128.47 254.72 L128.47 254.22 L129.33 254.22 L129.33 254.64 L130.20 254.64 L130.20 253.70 L131.90 253.70 L131.90 253.09 L133.10 253.09 L133.10 254.61 L134.30 254.61 L134.30 252.40 L136.10 252.40 L136.10 249.30 L137.80 249.30 L137.80 254.60 L139.60 254.60 L139.60 247.10 L141.30 247.10 L141.30 253.03 L142.40 253.03 L142.40 253.10 L143.50 253.10 L143.50 255.70 L144.60 255.70 L144.60 253.77 L145.70 253.77 L145.70 252.40 L147.50 252.40 L147.50 254.78 L148.47 254.78 L148.47 255.51 L149.45 255.51 L149.45 255.31 L150.43 255.31 L150.43 255.43 L151.40 255.43 L151.40 239.70 L153.10 239.70 L153.10 254.10 L154.50 254.10 L154.50 253.69 L155.50 253.69 L155.50 255.00 L156.50 255.00 L156.50 253.98 L157.50 253.98 L157.50 248.90 L158.80 248.90 L158.80 255.45 L159.74 255.45 L159.74 253.82 L160.69 253.82 L160.69 253.77 L161.63 253.77 L161.63 255.12 L162.57 255.12 L162.57 254.79 L163.51 254.79 L163.51 253.71 L164.46 253.71 L164.46 254.31 L165.40 254.31 L165.40 251.50 L166.70 251.50 L166.70 255.04 L167.73 255.04 L167.73 255.86 L168.77 255.86 L168.77 255.54 L169.80 255.54 L169.80 250.58 L170.90 250.58 L170.90 253.04 L172.00 253.04 L172.00 249.62 L173.10 249.62 L173.10 252.57 L174.20 252.57 L174.20 253.26 L175.07 253.26 L175.07 255.22 L175.93 255.22 L175.93 253.11 L176.80 253.11 L176.80 251.50 L178.50 251.50 L178.50 254.80 L179.38 254.80 L179.38 255.39 L180.25 255.39 L180.25 255.35 L181.12 255.35 L181.12 254.96 L182.00 254.96 L182.00 253.20 L183.40 253.20 L183.40 254.21 L184.34 254.21 L184.34 255.12 L185.28 255.12 L185.28 255.46 L186.22 255.46 L186.22 254.46 L187.16 254.46 L187.16 253.07 L188.10 253.07 L188.10 247.45 L189.20 247.45 L189.20 250.78 L190.30 250.78 L190.30 252.07 L191.27 252.07 L191.27 252.44 L192.23 252.44 L192.23 251.74 L193.20 251.74 L193.20 247.50 L194.60 247.50 L194.60 249.00 L196.00 249.00 L196.00 251.37 L197.15 251.37 L197.15 248.38 L198.30 248.38 L198.30 254.99 L199.20 254.99 L199.20 252.71 L200.10 252.71 L200.10 254.17 L201.00 254.17 L201.00 254.35 L201.90 254.35 L201.90 241.00 L203.60 241.00 L203.60 262.00 Z" fill="#7f7f7f"/>
<path d="M19.00 290.60 L19.00 283.80 L19.20 283.80 L19.20 288.39 L20.07 288.39 L20.07 288.05 L20.93 288.05 L20.93 288.24 L21.80 288.24 L21.80 286.63 L22.83 286.63 L22.83 286.59 L23.87 286.59 L23.87 287.53 L24.90 287.53 L24.90 286.00 L26.20 286.00 L26.20 288.60 L28.40 288.60 L28.40 285.89 L29.27 285.89 L29.27 283.71 L30.13 283.71 L30.13 285.24 L31.00 285.24 L31.00 289.19 L31.88 289.19 L31.88 288.65 L32.75 288.65 L32.75 289.02 L33.62 289.02 L33.62 288.76 L34.50 288.76 L34.50 282.90 L35.80 282.90 L35.80 286.05 L36.90 286.05 L36.90 285.72 L38.00 285.72 L38.00 286.71 L39.10 286.71 L39.10 285.73 L40.20 285.73 L40.20 282.70 L41.23 282.70 L41.23 283.73 L42.27 283.73 L42.27 283.08 L43.30 283.08 L43.30 286.40 L45.00 286.40 L45.00 279.40 L46.80 279.40 L46.80 274.79 L47.90 274.79 L47.90 278.72 L49.00 278.72 L49.00 279.00 L50.30 279.00 L50.30 286.80 L51.60 286.80 L51.60 283.80 L52.90 283.80 L52.90 285.92 L53.96 285.92 L53.96 286.23 L55.02 286.23 L55.02 286.77 L56.08 286.77 L56.08 287.27 L57.14 287.27 L57.14 285.72 L58.20 285.72 L58.20 283.80 L59.90 283.80 L59.90 288.60 L61.70 288.60 L61.70 283.88 L62.57 283.88 L62.57 283.15 L63.43 283.15 L63.43 282.67 L64.30 282.67 L64.30 287.43 L65.17 287.43 L65.17 287.16 L66.03 287.16 L66.03 287.83 L66.90 287.83 L66.90 283.81 L67.90 283.81 L67.90 284.75 L68.90 284.75 L68.90 283.45 L69.90 283.45 L69.90 283.60 L70.90 283.60 L70.90 285.66 L71.90 285.66 L71.90 285.56 L72.90 285.56 L72.90 285.35 L73.90 285.35 L73.90 286.80 L75.70 286.80 L75.70 281.10 L77.20 281.10 L77.20 285.06 L78.30 285.06 L78.30 286.13 L79.40 286.13 L79.40 288.60 L80.70 288.60 L80.70 283.42 L81.80 283.42 L81.80 284.40 L82.90 284.40 L82.90 286.79 L83.77 286.79 L83.77 286.99 L84.63 286.99 L84.63 287.05 L85.50 287.05 L85.50 280.30 L87.30 280.30 L87.30 279.00 L89.00 279.00 L89.00 274.10 L90.80 274.10 L90.80 284.20 L92.10 284.20 L92.10 280.30 L93.80 280.30 L93.80 283.96 L94.90 283.96 L94.90 283.96 L96.00 283.96 L96.00 284.59 L97.06 284.59 L97.06 285.09 L98.12 285.09 L98.12 284.54 L99.18 284.54 L99.18 284.70 L100.24 284.70 L100.24 284.40 L101.30 284.40 L101.30 280.70 L103.00 280.70 L103.00 287.05 L104.10 287.05 L104.10 287.79 L105.20 287.79 L105.20 286.78 L106.30 286.78 L106.30 286.63 L107.40 286.63 L107.40 284.12 L108.50 284.12 L108.50 284.93 L109.60 284.93 L109.60 284.58 L110.70 284.58 L110.70 285.80 L111.80 285.80 L111.80 280.75 L112.83 280.75 L112.83 281.72 L113.87 281.72 L113.87 282.81 L114.90 282.81 L114.90 287.53 L115.88 287.53 L115.88 286.21 L116.85 286.21 L116.85 285.98 L117.83 285.98 L117.83 287.49 L118.80 287.49 L118.80 272.48 L119.90 272.48 L119.90 275.23 L121.00 275.23 L121.00 283.30 L122.30 283.30 L122.30 282.56 L123.17 282.56 L123.17 281.96 L124.03 281.96 L124.03 279.98 L124.90 279.98 L124.90 284.20 L125.80 284.20 L125.80 286.20 L126.70 286.20 L126.70 284.82 L127.60 284.82 L127.60 287.24 L128.68 287.24 L128.68 286.00 L129.75 286.00 L129.75 286.71 L130.82 286.71 L130.82 285.70 L131.90 285.70 L131.90 282.36 L133.10 282.36 L133.10 283.78 L134.30 283.78 L134.30 286.80 L136.50 286.80 L136.50 286.00 L138.70 286.00 L138.70 281.21 L139.57 281.21 L139.57 283.54 L140.43 283.54 L140.43 284.33 L141.30 284.33 L141.30 285.80 L142.30 285.80 L142.30 286.95 L143.30 286.95 L143.30 286.61 L144.30 286.61 L144.30 286.19 L145.30 286.19 L145.30 287.56 L146.18 287.56 L146.18 288.14 L147.05 288.14 L147.05 288.28 L147.93 288.28 L147.93 287.23 L148.80 287.23 L148.80 286.40 L150.10 286.40 L150.10 282.90 L151.80 282.90 L151.80 286.38 L152.75 286.38 L152.75 285.07 L153.70 285.07 L153.70 285.20 L154.65 285.20 L154.65 286.25 L155.60 286.25 L155.60 286.08 L156.55 286.08 L156.55 285.96 L157.50 285.96 L157.50 281.10 L159.30 281.10 L159.30 286.13 L160.30 286.13 L160.30 286.22 L161.30 286.22 L161.30 286.29 L162.30 286.29 L162.30 286.18 L163.30 286.18 L163.30 285.59 L164.30 285.59 L164.30 286.39 L165.30 286.39 L165.30 286.53 L166.30 286.53 L166.30 284.57 L167.17 284.57 L167.17 285.73 L168.03 285.73 L168.03 285.58 L168.90 285.58 L168.90 282.90 L171.10 282.90 L171.10 288.18 L172.20 288.18 L172.20 288.58 L173.30 288.58 L173.30 288.56 L174.40 288.56 L174.40 289.03 L175.50 289.03 L175.50 286.56 L176.38 286.56 L176.38 286.25 L177.25 286.25 L177.25 287.29 L178.12 287.29 L178.12 286.19 L179.00 286.19 L179.00 280.70 L180.70 280.70 L180.70 286.16 L181.70 286.16 L181.70 287.21 L182.70 287.21 L182.70 286.16 L183.70 286.16 L183.70 286.46 L184.70 286.46 L184.70 280.70 L186.40 280.70 L186.40 285.64 L187.30 285.64 L187.30 286.30 L188.20 286.30 L188.20 285.58 L189.10 285.58 L189.10 278.10 L191.20 278.10 L191.20 284.19 L192.33 284.19 L192.33 286.02 L193.47 286.02 L193.47 285.92 L194.60 285.92 L194.60 285.97 L195.54 285.97 L195.54 285.42 L196.49 285.42 L196.49 286.77 L197.43 286.77 L197.43 286.38 L198.37 286.38 L198.37 286.12 L199.31 286.12 L199.31 286.64 L200.26 286.64 L200.26 286.56 L201.20 286.56 L201.20 273.35 L202.40 273.35 L202.40 272.88 L203.60 272.88 L203.60 290.60 Z" fill="#7f7f7f"/>
<path d="M19.00 319.30 L19.00 312.70 L19.60 312.70 L19.60 315.85 L20.63 315.85 L20.63 316.08 L21.67 316.08 L21.67 315.58 L22.70 315.58 L22.70 315.99 L23.73 315.99 L23.73 316.14 L24.77 316.14 L24.77 315.57 L25.80 315.57 L25.80 316.22 L26.68 316.22 L26.68 316.36 L27.55 316.36 L27.55 316.40 L28.43 316.40 L28.43 317.02 L29.30 317.02 L29.30 315.34 L30.47 315.34 L30.47 315.78 L31.63 315.78 L31.63 315.96 L32.80 315.96 L32.80 313.20 L34.10 313.20 L34.10 315.40 L35.00 315.40 L35.00 313.26 L36.00 313.26 L36.00 312.92 L37.00 312.92 L37.00 310.63 L38.00 310.63 L38.00 314.26 L39.03 314.26 L39.03 314.31 L40.07 314.31 L40.07 314.32 L41.10 314.32 L41.10 310.50 L42.80 310.50 L42.80 304.00 L43.70 304.00 L43.70 299.20 L45.90 299.20 L45.90 294.30 L47.20 294.30 L47.20 295.77 L48.07 295.77 L48.07 294.38 L48.93 294.38 L48.93 291.20 L49.80 291.20 L49.80 304.40 L50.70 304.40 L50.70 315.44 L51.80 315.44 L51.80 315.25 L52.90 315.25 L52.90 315.21 L54.00 315.21 L54.00 316.44 L55.10 316.44 L55.10 306.20 L56.90 306.20 L56.90 316.20 L59.00 316.20 L59.00 314.50 L60.80 314.50 L60.80 317.00 L61.90 317.00 L61.90 316.93 L63.00 316.93 L63.00 314.49 L63.87 314.49 L63.87 315.18 L64.73 315.18 L64.73 314.56 L65.60 314.56 L65.60 316.20 L67.40 316.20 L67.40 313.32 L68.27 313.32 L68.27 310.60 L69.13 310.60 L69.13 310.83 L70.00 310.83 L70.00 316.14 L71.10 316.14 L71.10 316.47 L72.20 316.47 L72.20 314.11 L73.07 314.11 L73.07 314.76 L73.93 314.76 L73.93 314.16 L74.80 314.16 L74.80 317.10 L76.10 317.10 L76.10 299.20 L77.20 299.20 L77.20 315.26 L78.17 315.26 L78.17 315.79 L79.15 315.79 L79.15 315.93 L80.12 315.93 L80.12 315.65 L81.10 315.65 L81.10 313.77 L82.00 313.77 L82.00 314.45 L82.90 314.45 L82.90 314.09 L83.80 314.09 L83.80 311.34 L84.67 311.34 L84.67 313.71 L85.55 313.71 L85.55 313.70 L86.42 313.70 L86.42 311.91 L87.30 311.91 L87.30 307.90 L89.00 307.90 L89.00 293.00 L90.80 293.00 L90.80 312.70 L92.10 312.70 L92.10 305.70 L93.40 305.70 L93.40 309.70 L95.10 309.70 L95.10 307.00 L96.90 307.00 L96.90 311.90 L98.20 311.90 L98.20 315.33 L99.23 315.33 L99.23 314.83 L100.27 314.83 L100.27 314.96 L101.30 314.96 L101.30 307.90 L103.00 307.90 L103.00 315.40 L104.80 315.40 L104.80 296.10 L106.10 296.10 L106.10 302.30 L107.40 302.30 L107.40 297.00 L109.20 297.00 L109.20 295.70 L110.90 295.70 L110.90 305.70 L112.20 305.70 L112.20 299.60 L113.50 299.60 L113.50 314.50 L115.30 314.50 L115.30 316.20 L117.00 316.20 L117.00 311.95 L118.10 311.95 L118.10 309.67 L119.20 309.67 L119.20 302.30 L120.10 302.30 L120.10 296.50 L121.40 296.50 L121.40 305.70 L122.70 305.70 L122.70 310.64 L123.80 310.64 L123.80 309.68 L124.90 309.68 L124.90 316.26 L126.00 316.26 L126.00 315.60 L127.10 315.60 L127.10 316.14 L128.20 316.14 L128.20 316.02 L129.30 316.02 L129.30 312.70 L131.10 312.70 L131.10 315.40 L133.20 315.40 L133.20 303.10 L134.80 303.10 L134.80 315.86 L135.84 315.86 L135.84 316.44 L136.88 316.44 L136.88 316.12 L137.92 316.12 L137.92 315.65 L138.96 315.65 L138.96 316.74 L140.00 316.74 L140.00 315.02 L140.87 315.02 L140.87 314.63 L141.73 314.63 L141.73 313.38 L142.60 313.38 L142.60 315.62 L143.66 315.62 L143.66 316.20 L144.72 316.20 L144.72 316.06 L145.78 316.06 L145.78 316.30 L146.84 316.30 L146.84 315.86 L147.90 315.86 L147.90 316.18 L148.77 316.18 L148.77 315.06 L149.63 315.06 L149.63 314.72 L150.50 314.72 L150.50 315.34 L151.53 315.34 L151.53 315.66 L152.57 315.66 L152.57 315.33 L153.60 315.33 L153.60 312.70 L154.90 312.70 L154.90 316.54 L155.92 316.54 L155.92 316.12 L156.93 316.12 L156.93 315.08 L157.95 315.08 L157.95 315.38 L158.97 315.38 L158.97 315.94 L159.98 315.94 L159.98 315.12 L161.00 315.12 L161.00 313.72 L161.90 313.72 L161.90 313.26 L162.80 313.26 L162.80 314.48 L163.70 314.48 L163.70 316.62 L164.57 316.62 L164.57 316.28 L165.45 316.28 L165.45 316.70 L166.32 316.70 L166.32 316.36 L167.20 316.36 L167.20 312.92 L168.07 312.92 L168.07 314.39 L168.93 314.39 L168.93 315.14 L169.80 315.14 L169.80 316.82 L170.78 316.82 L170.78 316.65 L171.75 316.65 L171.75 315.81 L172.72 315.81 L172.72 316.39 L173.70 316.39 L173.70 311.00 L175.00 311.00 L175.00 316.49 L175.95 316.49 L175.95 316.75 L176.90 316.75 L176.90 315.54 L177.85 315.54 L177.85 316.30 L178.80 316.30 L178.80 316.60 L179.75 316.60 L179.75 316.80 L180.70 316.80 L180.70 316.81 L181.65 316.81 L181.65 316.65 L182.60 316.65 L182.60 315.96 L183.55 315.96 L183.55 316.68 L184.50 316.68 L184.50 312.10 L186.70 312.10 L186.70 316.43 L187.77 316.43 L187.77 315.71 L188.85 315.71 L188.85 316.10 L189.93 316.10 L189.93 314.91 L191.00 314.91 L191.00 308.40 L193.20 308.40 L193.20 303.62 L194.30 303.62 L194.30 300.26 L195.40 300.26 L195.40 298.30 L196.80 298.30 L196.80 317.10 L199.00 317.10 L199.00 293.90 L201.20 293.90 L201.20 291.20 L202.40 291.20 L202.40 294.91 L203.60 294.91 L203.60 319.30 Z" fill="#7f7f7f"/>
<line x1="18.60" y1="233.00" x2="204.00" y2="233.00" stroke="#333" stroke-width="1.5"/>
<line x1="18.60" y1="262.00" x2="204.00" y2="262.00" stroke="#333" stroke-width="1.5"/>
<line x1="18.60" y1="290.60" x2="204.00" y2="290.60" stroke="#333" stroke-width="1.5"/>
<line x1="18.60" y1="319.30" x2="204.00" y2="319.30" stroke="#333" stroke-width="1.5"/>
<line x1="84.50" y1="204.60" x2="84.50" y2="319.30" stroke="#e4585e" stroke-width="0.5"/>
<text x="200.60" y="211.80" font-size="7.0" text-anchor="end" fill="#222" textLength="76.30" lengthAdjust="spacingAndGlyphs">TCGA-HF-A5NB (STAD)</text>
<text x="200.60" y="240.80" font-size="7.0" text-anchor="end" fill="#222" textLength="73.00" lengthAdjust="spacingAndGlyphs">TCGA-BR-A4J1 (STAD)</text>
<text x="200.60" y="269.80" font-size="7.0" text-anchor="end" fill="#222" textLength="76.60" lengthAdjust="spacingAndGlyphs">TCGA-BR-A4CR (STAD)</text>
<text x="200.60" y="298.40" font-size="7.0" text-anchor="end" fill="#222" textLength="77.00" lengthAdjust="spacingAndGlyphs">TCGA-CD-A48C (STAD)</text>
<rect x="42.30" y="325.20" width="42.50" height="3.70" fill="#3a78c2"/>
<line x1="42.30" y1="322.50" x2="42.30" y2="331.50" stroke="#a9c4e8" stroke-width="0.4"/>
<line x1="84.80" y1="322.50" x2="84.80" y2="331.50" stroke="#a9c4e8" stroke-width="0.4"/>
<text x="87.60" y="330.00" font-size="7.4" fill="#3a78c2" font-style="italic" textLength="32.00" lengthAdjust="spacingAndGlyphs">MECOM</text>
<line x1="63.60" y1="335.00" x2="63.60" y2="337.00" stroke="#666" stroke-width="0.6"/>
<text x="63.60" y="348.00" font-size="8.8" text-anchor="middle" fill="#2b2b2b">169.2</text>
<line x1="123.90" y1="335.00" x2="123.90" y2="337.00" stroke="#666" stroke-width="0.6"/>
<text x="123.90" y="348.00" font-size="8.8" text-anchor="middle" fill="#2b2b2b">169.4</text>
<line x1="183.70" y1="335.00" x2="183.70" y2="337.00" stroke="#666" stroke-width="0.6"/>
<text x="183.70" y="348.00" font-size="8.8" text-anchor="middle" fill="#2b2b2b">169.6</text>
<text x="196.80" y="348.00" font-size="8.8" fill="#2b2b2b">Mb</text>
<text x="13.60" y="269.50" font-size="8.6" text-anchor="middle" fill="#2b2b2b" textLength="143.50" lengthAdjust="spacingAndGlyphs" transform="rotate(-90 13.60 269.50)">Normalized H3K27ac 1D signal (0–1)</text>
<rect x="212.50" y="204.20" width="49.80" height="115.90" fill="#fff"/>
<line x1="220.70" y1="204.20" x2="220.70" y2="320.10" stroke="#f0f0f0" stroke-width="0.6"/>
<line x1="231.90" y1="204.20" x2="231.90" y2="320.10" stroke="#f0f0f0" stroke-width="0.6"/>
<line x1="243.10" y1="204.20" x2="243.10" y2="320.10" stroke="#f0f0f0" stroke-width="0.6"/>
<line x1="254.30" y1="204.20" x2="254.30" y2="320.10" stroke="#f0f0f0" stroke-width="0.6"/>
<line x1="215.10" y1="204.20" x2="215.10" y2="320.10" stroke="#e6e6e6" stroke-width="0.9"/>
<line x1="226.30" y1="204.20" x2="226.30" y2="320.10" stroke="#e6e6e6" stroke-width="0.9"/>
<line x1="237.50" y1="204.20" x2="237.50" y2="320.10" stroke="#e6e6e6" stroke-width="0.9"/>
<line x1="248.70" y1="204.20" x2="248.70" y2="320.10" stroke="#e6e6e6" stroke-width="0.9"/>
<line x1="259.90" y1="204.20" x2="259.90" y2="320.10" stroke="#e6e6e6" stroke-width="0.9"/>
<line x1="212.50" y1="220.80" x2="262.30" y2="220.80" stroke="#e6e6e6" stroke-width="0.9"/>
<line x1="212.50" y1="248.60" x2="262.30" y2="248.60" stroke="#e6e6e6" stroke-width="0.9"/>
<line x1="212.50" y1="276.00" x2="262.30" y2="276.00" stroke="#e6e6e6" stroke-width="0.9"/>
<line x1="212.50" y1="303.40" x2="262.30" y2="303.40" stroke="#e6e6e6" stroke-width="0.9"/>
<rect x="215.10" y="212.65" width="44.80" height="16.30" fill="#56b4e9"/>
<rect x="215.10" y="240.45" width="35.28" height="16.30" fill="#7f7f7f"/>
<rect x="215.10" y="267.85" width="25.76" height="16.30" fill="#7f7f7f"/>
<rect x="215.10" y="295.25" width="32.48" height="16.30" fill="#7f7f7f"/>
<rect x="212.50" y="204.20" width="49.80" height="115.90" fill="none" stroke="#666" stroke-width="0.8"/>
<line x1="210.20" y1="220.80" x2="212.50" y2="220.80" stroke="#555" stroke-width="0.6"/>
<line x1="210.20" y1="248.60" x2="212.50" y2="248.60" stroke="#555" stroke-width="0.6"/>
<line x1="210.20" y1="276.00" x2="212.50" y2="276.00" stroke="#555" stroke-width="0.6"/>
<line x1="210.20" y1="303.40" x2="212.50" y2="303.40" stroke="#555" stroke-width="0.6"/>
<line x1="215.10" y1="320.10" x2="215.10" y2="322.10" stroke="#555" stroke-width="0.6"/>
<text x="215.10" y="331.60" font-size="7.4" text-anchor="middle" fill="#333">0</text>
<line x1="226.30" y1="320.10" x2="226.30" y2="322.10" stroke="#555" stroke-width="0.6"/>
<text x="226.30" y="331.60" font-size="7.4" text-anchor="middle" fill="#333">2</text>
<line x1="237.50" y1="320.10" x2="237.50" y2="322.10" stroke="#555" stroke-width="0.6"/>
<text x="237.50" y="331.60" font-size="7.4" text-anchor="middle" fill="#333">4</text>
<line x1="248.70" y1="320.10" x2="248.70" y2="322.10" stroke="#555" stroke-width="0.6"/>
<text x="248.70" y="331.60" font-size="7.4" text-anchor="middle" fill="#333">6</text>
<line x1="259.90" y1="320.10" x2="259.90" y2="322.10" stroke="#555" stroke-width="0.6"/>
<text x="259.90" y="331.60" font-size="7.4" text-anchor="middle" fill="#333">8</text>
<text x="236.00" y="189.80" font-size="8.4" text-anchor="middle" fill="#2b2b2b" font-style="italic">MECOM</text>
<text x="236.00" y="199.90" font-size="8.4" text-anchor="middle" fill="#2b2b2b" textLength="36.80" lengthAdjust="spacingAndGlyphs">promoter</text>
<rect x="271.60" y="204.20" width="47.60" height="115.90" fill="#fff"/>
<line x1="281.35" y1="204.20" x2="281.35" y2="320.10" stroke="#f0f0f0" stroke-width="0.6"/>
<line x1="297.25" y1="204.20" x2="297.25" y2="320.10" stroke="#f0f0f0" stroke-width="0.6"/>
<line x1="313.15" y1="204.20" x2="313.15" y2="320.10" stroke="#f0f0f0" stroke-width="0.6"/>
<line x1="273.40" y1="204.20" x2="273.40" y2="320.10" stroke="#e6e6e6" stroke-width="0.9"/>
<line x1="289.30" y1="204.20" x2="289.30" y2="320.10" stroke="#e6e6e6" stroke-width="0.9"/>
<line x1="305.20" y1="204.20" x2="305.20" y2="320.10" stroke="#e6e6e6" stroke-width="0.9"/>
<line x1="271.60" y1="220.80" x2="319.20" y2="220.80" stroke="#e6e6e6" stroke-width="0.9"/>
<line x1="271.60" y1="248.60" x2="319.20" y2="248.60" stroke="#e6e6e6" stroke-width="0.9"/>
<line x1="271.60" y1="276.00" x2="319.20" y2="276.00" stroke="#e6e6e6" stroke-width="0.9"/>
<line x1="271.60" y1="303.40" x2="319.20" y2="303.40" stroke="#e6e6e6" stroke-width="0.9"/>
<rect x="273.40" y="212.65" width="43.57" height="16.30" fill="#56b4e9"/>
<rect x="273.40" y="240.45" width="14.95" height="16.30" fill="#7f7f7f"/>
<rect x="273.40" y="267.85" width="1.43" height="16.30" fill="#7f7f7f"/>
<rect x="273.40" y="295.25" width="35.62" height="16.30" fill="#7f7f7f"/>
<rect x="271.60" y="204.20" width="47.60" height="115.90" fill="none" stroke="#666" stroke-width="0.8"/>
<line x1="273.40" y1="320.10" x2="273.40" y2="322.10" stroke="#555" stroke-width="0.6"/>
<text x="273.40" y="331.60" font-size="7.4" text-anchor="middle" fill="#333">0</text>
<line x1="289.30" y1="320.10" x2="289.30" y2="322.10" stroke="#555" stroke-width="0.6"/>
<text x="289.30" y="331.60" font-size="7.4" text-anchor="middle" fill="#333">10</text>
<line x1="305.20" y1="320.10" x2="305.20" y2="322.10" stroke="#555" stroke-width="0.6"/>
<text x="305.20" y="331.60" font-size="7.4" text-anchor="middle" fill="#333">20</text>
<text x="294.70" y="189.80" font-size="8.4" text-anchor="middle" fill="#2b2b2b" font-style="italic">MECOM</text>
<text x="294.70" y="199.90" font-size="8.4" text-anchor="middle" fill="#2b2b2b">RNA</text>
<rect x="330.40" y="204.20" width="52.00" height="115.90" fill="#fff"/>
<line x1="340.02" y1="204.20" x2="340.02" y2="320.10" stroke="#f0f0f0" stroke-width="0.6"/>
<line x1="355.27" y1="204.20" x2="355.27" y2="320.10" stroke="#f0f0f0" stroke-width="0.6"/>
<line x1="370.52" y1="204.20" x2="370.52" y2="320.10" stroke="#f0f0f0" stroke-width="0.6"/>
<line x1="332.40" y1="204.20" x2="332.40" y2="320.10" stroke="#e6e6e6" stroke-width="0.9"/>
<line x1="347.65" y1="204.20" x2="347.65" y2="320.10" stroke="#e6e6e6" stroke-width="0.9"/>
<line x1="362.90" y1="204.20" x2="362.90" y2="320.10" stroke="#e6e6e6" stroke-width="0.9"/>
<line x1="378.15" y1="204.20" x2="378.15" y2="320.10" stroke="#e6e6e6" stroke-width="0.9"/>
<line x1="330.40" y1="220.80" x2="382.40" y2="220.80" stroke="#e6e6e6" stroke-width="0.9"/>
<line x1="330.40" y1="248.60" x2="382.40" y2="248.60" stroke="#e6e6e6" stroke-width="0.9"/>
<line x1="330.40" y1="276.00" x2="382.40" y2="276.00" stroke="#e6e6e6" stroke-width="0.9"/>
<line x1="330.40" y1="303.40" x2="382.40" y2="303.40" stroke="#e6e6e6" stroke-width="0.9"/>
<rect x="332.40" y="212.65" width="29.37" height="16.30" fill="#56b4e9"/>
<rect x="332.40" y="240.45" width="23.42" height="16.30" fill="#7f7f7f"/>
<rect x="332.40" y="267.85" width="18.24" height="16.30" fill="#7f7f7f"/>
<rect x="332.40" y="295.25" width="47.27" height="16.30" fill="#7f7f7f"/>
<rect x="330.40" y="204.20" width="52.00" height="115.90" fill="none" stroke="#666" stroke-width="0.8"/>
<line x1="332.40" y1="320.10" x2="332.40" y2="322.10" stroke="#555" stroke-width="0.6"/>
<text x="332.40" y="331.60" font-size="7.4" text-anchor="middle" fill="#333">0</text>
<line x1="347.65" y1="320.10" x2="347.65" y2="322.10" stroke="#555" stroke-width="0.6"/>
<text x="347.65" y="331.60" font-size="7.4" text-anchor="middle" fill="#333">0.5</text>
<line x1="362.90" y1="320.10" x2="362.90" y2="322.10" stroke="#555" stroke-width="0.6"/>
<text x="362.90" y="331.60" font-size="7.4" text-anchor="middle" fill="#333">1</text>
<line x1="378.15" y1="320.10" x2="378.15" y2="322.10" stroke="#555" stroke-width="0.6"/>
<text x="378.15" y="331.60" font-size="7.4" text-anchor="middle" fill="#333">1.5</text>
<text x="355.80" y="189.80" font-size="8.4" text-anchor="middle" fill="#2b2b2b" font-style="italic">MECOM</text>
<text x="355.80" y="199.90" font-size="8.4" text-anchor="middle" fill="#2b2b2b">CN</text>
<text x="393.90" y="191.00" font-size="13" font-weight="bold" fill="#000" stroke="#000" stroke-width="0.35">e</text>
<text x="470.00" y="201.30" font-size="8.8" text-anchor="middle" fill="#2b2b2b" textLength="85.50" lengthAdjust="spacingAndGlyphs">Oncogene enhancers</text>
<rect x="427.50" y="206.50" width="86.00" height="114.00" fill="#fff"/>
<line x1="448.00" y1="206.50" x2="448.00" y2="320.50" stroke="#f2f2f2" stroke-width="0.6"/>
<line x1="471.20" y1="206.50" x2="471.20" y2="320.50" stroke="#f2f2f2" stroke-width="0.6"/>
<line x1="494.40" y1="206.50" x2="494.40" y2="320.50" stroke="#f2f2f2" stroke-width="0.6"/>
<line x1="427.50" y1="216.93" x2="513.50" y2="216.93" stroke="#f2f2f2" stroke-width="0.6"/>
<line x1="427.50" y1="236.48" x2="513.50" y2="236.48" stroke="#f2f2f2" stroke-width="0.6"/>
<line x1="427.50" y1="256.03" x2="513.50" y2="256.03" stroke="#f2f2f2" stroke-width="0.6"/>
<line x1="427.50" y1="275.57" x2="513.50" y2="275.57" stroke="#f2f2f2" stroke-width="0.6"/>
<line x1="427.50" y1="295.12" x2="513.50" y2="295.12" stroke="#f2f2f2" stroke-width="0.6"/>
<line x1="427.50" y1="314.68" x2="513.50" y2="314.68" stroke="#f2f2f2" stroke-width="0.6"/>
<line x1="436.40" y1="206.50" x2="436.40" y2="320.50" stroke="#e5e5e5" stroke-width="1.0"/>
<line x1="459.60" y1="206.50" x2="459.60" y2="320.50" stroke="#e5e5e5" stroke-width="1.0"/>
<line x1="482.80" y1="206.50" x2="482.80" y2="320.50" stroke="#e5e5e5" stroke-width="1.0"/>
<line x1="506.00" y1="206.50" x2="506.00" y2="320.50" stroke="#e5e5e5" stroke-width="1.0"/>
<line x1="427.50" y1="207.15" x2="513.50" y2="207.15" stroke="#e5e5e5" stroke-width="1.0"/>
<line x1="427.50" y1="226.70" x2="513.50" y2="226.70" stroke="#e5e5e5" stroke-width="1.0"/>
<line x1="427.50" y1="246.25" x2="513.50" y2="246.25" stroke="#e5e5e5" stroke-width="1.0"/>
<line x1="427.50" y1="265.80" x2="513.50" y2="265.80" stroke="#e5e5e5" stroke-width="1.0"/>
<line x1="427.50" y1="285.35" x2="513.50" y2="285.35" stroke="#e5e5e5" stroke-width="1.0"/>
<line x1="427.50" y1="304.90" x2="513.50" y2="304.90" stroke="#e5e5e5" stroke-width="1.0"/>
<circle cx="447.72" cy="266.76" r="0.75" fill="#000"/>
<circle cx="473.46" cy="267.38" r="0.75" fill="#000"/>
<circle cx="446.50" cy="267.78" r="0.75" fill="#000"/>
<circle cx="467.46" cy="264.21" r="0.75" fill="#000"/>
<circle cx="447.82" cy="270.35" r="0.75" fill="#000"/>
<circle cx="470.11" cy="265.42" r="0.75" fill="#000"/>
<circle cx="479.71" cy="263.84" r="0.75" fill="#000"/>
<circle cx="460.74" cy="267.51" r="0.75" fill="#000"/>
<circle cx="491.74" cy="265.97" r="0.75" fill="#000"/>
<circle cx="452.81" cy="269.76" r="0.75" fill="#000"/>
<circle cx="463.03" cy="266.49" r="0.75" fill="#000"/>
<circle cx="457.92" cy="267.19" r="0.75" fill="#000"/>
<circle cx="465.09" cy="265.21" r="0.75" fill="#000"/>
<circle cx="474.64" cy="265.76" r="0.75" fill="#000"/>
<circle cx="441.16" cy="266.40" r="0.75" fill="#000"/>
<circle cx="445.45" cy="268.06" r="0.75" fill="#000"/>
<circle cx="444.82" cy="267.72" r="0.75" fill="#000"/>
<circle cx="452.89" cy="266.85" r="0.75" fill="#000"/>
<circle cx="500.20" cy="265.02" r="0.75" fill="#000"/>
<circle cx="471.69" cy="269.21" r="0.75" fill="#000"/>
<circle cx="458.58" cy="265.60" r="0.75" fill="#000"/>
<circle cx="460.85" cy="266.11" r="0.75" fill="#000"/>
<circle cx="463.12" cy="268.96" r="0.75" fill="#000"/>
<circle cx="468.46" cy="268.27" r="0.75" fill="#000"/>
<circle cx="483.63" cy="266.84" r="0.75" fill="#000"/>
<circle cx="469.88" cy="266.45" r="0.75" fill="#000"/>
<circle cx="472.97" cy="267.59" r="0.75" fill="#000"/>
<circle cx="473.51" cy="266.54" r="0.75" fill="#000"/>
<circle cx="476.57" cy="264.77" r="0.75" fill="#000"/>
<circle cx="463.56" cy="268.45" r="0.75" fill="#000"/>
<circle cx="470.83" cy="265.40" r="0.75" fill="#000"/>
<circle cx="480.97" cy="266.70" r="0.75" fill="#000"/>
<circle cx="468.36" cy="265.44" r="0.75" fill="#000"/>
<circle cx="465.20" cy="266.24" r="0.75" fill="#000"/>
<circle cx="464.03" cy="268.04" r="0.75" fill="#000"/>
<circle cx="450.15" cy="268.30" r="0.75" fill="#000"/>
<circle cx="468.77" cy="263.26" r="0.75" fill="#000"/>
<circle cx="473.25" cy="264.02" r="0.75" fill="#000"/>
<circle cx="470.94" cy="264.90" r="0.75" fill="#000"/>
<circle cx="464.05" cy="265.09" r="0.75" fill="#000"/>
<circle cx="482.49" cy="266.52" r="0.75" fill="#000"/>
<circle cx="453.87" cy="263.05" r="0.75" fill="#000"/>
<circle cx="464.76" cy="264.62" r="0.75" fill="#000"/>
<circle cx="472.06" cy="268.79" r="0.75" fill="#000"/>
<circle cx="490.15" cy="261.61" r="0.75" fill="#000"/>
<circle cx="463.97" cy="265.13" r="0.75" fill="#000"/>
<circle cx="463.39" cy="268.68" r="0.75" fill="#000"/>
<circle cx="460.62" cy="266.12" r="0.75" fill="#000"/>
<circle cx="474.86" cy="264.68" r="0.75" fill="#000"/>
<circle cx="462.61" cy="263.91" r="0.75" fill="#000"/>
<circle cx="453.10" cy="265.60" r="0.75" fill="#000"/>
<circle cx="474.82" cy="266.83" r="0.75" fill="#000"/>
<circle cx="441.15" cy="269.85" r="0.75" fill="#000"/>
<circle cx="464.67" cy="265.58" r="0.75" fill="#000"/>
<circle cx="479.88" cy="268.11" r="0.75" fill="#000"/>
<circle cx="461.94" cy="265.46" r="0.75" fill="#000"/>
<circle cx="460.09" cy="272.04" r="0.75" fill="#000"/>
<circle cx="471.27" cy="261.41" r="0.75" fill="#000"/>
<circle cx="473.57" cy="268.24" r="0.75" fill="#000"/>
<circle cx="457.14" cy="266.62" r="0.75" fill="#000"/>
<circle cx="490.79" cy="264.07" r="0.75" fill="#000"/>
<circle cx="463.24" cy="263.44" r="0.75" fill="#000"/>
<circle cx="460.97" cy="262.90" r="0.75" fill="#000"/>
<circle cx="453.97" cy="268.28" r="0.75" fill="#000"/>
<circle cx="470.28" cy="263.37" r="0.75" fill="#000"/>
<circle cx="469.51" cy="265.82" r="0.75" fill="#000"/>
<circle cx="440.79" cy="269.46" r="0.75" fill="#000"/>
<circle cx="454.84" cy="268.36" r="0.75" fill="#000"/>
<circle cx="468.72" cy="267.23" r="0.75" fill="#000"/>
<circle cx="471.06" cy="266.22" r="0.75" fill="#000"/>
<circle cx="458.06" cy="266.80" r="0.75" fill="#000"/>
<circle cx="466.89" cy="264.76" r="0.75" fill="#000"/>
<circle cx="456.38" cy="267.64" r="0.75" fill="#000"/>
<circle cx="446.10" cy="264.21" r="0.75" fill="#000"/>
<circle cx="478.76" cy="266.39" r="0.75" fill="#000"/>
<circle cx="456.37" cy="269.79" r="0.75" fill="#000"/>
<circle cx="463.89" cy="266.31" r="0.75" fill="#000"/>
<circle cx="487.23" cy="265.05" r="0.75" fill="#000"/>
<circle cx="452.90" cy="272.57" r="0.75" fill="#000"/>
<circle cx="478.27" cy="265.62" r="0.75" fill="#000"/>
<circle cx="443.25" cy="267.41" r="0.75" fill="#000"/>
<circle cx="443.26" cy="260.31" r="0.75" fill="#000"/>
<circle cx="474.90" cy="264.97" r="0.75" fill="#000"/>
<circle cx="459.89" cy="271.56" r="0.75" fill="#000"/>
<circle cx="460.45" cy="270.27" r="0.75" fill="#000"/>
<circle cx="468.84" cy="271.11" r="0.75" fill="#000"/>
<circle cx="451.39" cy="264.77" r="0.75" fill="#000"/>
<circle cx="480.99" cy="268.43" r="0.75" fill="#000"/>
<circle cx="444.13" cy="265.86" r="0.75" fill="#000"/>
<circle cx="471.82" cy="268.48" r="0.75" fill="#000"/>
<circle cx="453.87" cy="268.76" r="0.75" fill="#000"/>
<circle cx="448.12" cy="269.02" r="0.75" fill="#000"/>
<circle cx="476.43" cy="264.64" r="0.75" fill="#000"/>
<circle cx="485.78" cy="265.84" r="0.75" fill="#000"/>
<circle cx="460.35" cy="269.05" r="0.75" fill="#000"/>
<circle cx="460.48" cy="269.75" r="0.75" fill="#000"/>
<circle cx="441.30" cy="266.40" r="0.75" fill="#000"/>
<circle cx="478.63" cy="264.21" r="0.75" fill="#000"/>
<circle cx="477.38" cy="265.53" r="0.75" fill="#000"/>
<circle cx="453.59" cy="267.09" r="0.75" fill="#000"/>
<circle cx="457.58" cy="269.47" r="0.75" fill="#000"/>
<circle cx="442.29" cy="271.04" r="0.75" fill="#000"/>
<circle cx="461.86" cy="266.53" r="0.75" fill="#000"/>
<circle cx="456.41" cy="264.06" r="0.75" fill="#000"/>
<circle cx="464.00" cy="265.50" r="0.75" fill="#000"/>
<circle cx="476.06" cy="267.90" r="0.75" fill="#000"/>
<circle cx="439.07" cy="266.39" r="0.75" fill="#000"/>
<circle cx="453.93" cy="264.44" r="0.75" fill="#000"/>
<circle cx="465.84" cy="264.49" r="0.75" fill="#000"/>
<circle cx="470.78" cy="270.88" r="0.75" fill="#000"/>
<circle cx="470.26" cy="267.88" r="0.75" fill="#000"/>
<circle cx="453.15" cy="268.23" r="0.75" fill="#000"/>
<circle cx="470.83" cy="264.50" r="0.75" fill="#000"/>
<circle cx="473.65" cy="269.83" r="0.75" fill="#000"/>
<circle cx="455.07" cy="272.31" r="0.75" fill="#000"/>
<circle cx="460.74" cy="265.62" r="0.75" fill="#000"/>
<circle cx="453.06" cy="266.78" r="0.75" fill="#000"/>
<circle cx="464.60" cy="264.55" r="0.75" fill="#000"/>
<circle cx="452.39" cy="269.12" r="0.75" fill="#000"/>
<circle cx="453.07" cy="263.53" r="0.75" fill="#000"/>
<circle cx="474.57" cy="266.48" r="0.75" fill="#000"/>
<circle cx="464.54" cy="266.48" r="0.75" fill="#000"/>
<circle cx="464.28" cy="267.19" r="0.75" fill="#000"/>
<circle cx="458.04" cy="269.75" r="0.75" fill="#000"/>
<circle cx="454.47" cy="263.68" r="0.75" fill="#000"/>
<circle cx="468.14" cy="266.40" r="0.75" fill="#000"/>
<circle cx="459.43" cy="266.85" r="0.75" fill="#000"/>
<circle cx="466.02" cy="268.04" r="0.75" fill="#000"/>
<circle cx="464.20" cy="266.22" r="0.75" fill="#000"/>
<circle cx="453.24" cy="268.99" r="0.75" fill="#000"/>
<circle cx="450.33" cy="269.73" r="0.75" fill="#000"/>
<circle cx="472.24" cy="271.41" r="0.75" fill="#000"/>
<circle cx="458.83" cy="268.33" r="0.75" fill="#000"/>
<circle cx="454.73" cy="267.01" r="0.75" fill="#000"/>
<circle cx="475.00" cy="266.03" r="0.75" fill="#000"/>
<circle cx="460.29" cy="268.25" r="0.75" fill="#000"/>
<circle cx="460.42" cy="264.97" r="0.75" fill="#000"/>
<circle cx="457.35" cy="269.55" r="0.75" fill="#000"/>
<circle cx="447.26" cy="269.98" r="0.75" fill="#000"/>
<circle cx="445.80" cy="265.31" r="0.75" fill="#000"/>
<circle cx="466.04" cy="267.16" r="0.75" fill="#000"/>
<circle cx="478.85" cy="267.41" r="0.75" fill="#000"/>
<circle cx="470.65" cy="264.69" r="0.75" fill="#000"/>
<circle cx="443.98" cy="271.11" r="0.75" fill="#000"/>
<circle cx="451.16" cy="265.45" r="0.75" fill="#000"/>
<circle cx="476.95" cy="268.74" r="0.75" fill="#000"/>
<circle cx="474.08" cy="267.06" r="0.75" fill="#000"/>
<circle cx="457.36" cy="268.27" r="0.75" fill="#000"/>
<circle cx="458.16" cy="270.96" r="0.75" fill="#000"/>
<circle cx="450.31" cy="270.10" r="0.75" fill="#000"/>
<circle cx="467.61" cy="262.08" r="0.75" fill="#000"/>
<circle cx="493.61" cy="265.98" r="0.75" fill="#000"/>
<circle cx="441.95" cy="268.74" r="0.75" fill="#000"/>
<circle cx="451.02" cy="263.14" r="0.75" fill="#000"/>
<circle cx="468.54" cy="268.09" r="0.75" fill="#000"/>
<circle cx="472.78" cy="265.15" r="0.75" fill="#000"/>
<circle cx="443.07" cy="268.95" r="0.75" fill="#000"/>
<circle cx="459.14" cy="266.96" r="0.75" fill="#000"/>
<circle cx="463.45" cy="267.51" r="0.75" fill="#000"/>
<circle cx="464.12" cy="268.00" r="0.75" fill="#000"/>
<circle cx="451.52" cy="264.12" r="0.75" fill="#000"/>
<circle cx="466.10" cy="265.70" r="0.75" fill="#000"/>
<circle cx="443.42" cy="268.15" r="0.75" fill="#000"/>
<circle cx="471.42" cy="269.15" r="0.75" fill="#000"/>
<circle cx="474.65" cy="267.05" r="0.75" fill="#000"/>
<circle cx="466.59" cy="266.91" r="0.75" fill="#000"/>
<circle cx="464.45" cy="264.14" r="0.75" fill="#000"/>
<circle cx="457.24" cy="263.73" r="0.75" fill="#000"/>
<circle cx="452.85" cy="269.32" r="0.75" fill="#000"/>
<circle cx="470.17" cy="268.73" r="0.75" fill="#000"/>
<circle cx="457.62" cy="265.12" r="0.75" fill="#000"/>
<circle cx="475.96" cy="269.96" r="0.75" fill="#000"/>
<circle cx="467.79" cy="262.51" r="0.75" fill="#000"/>
<circle cx="475.78" cy="266.67" r="0.75" fill="#000"/>
<circle cx="454.95" cy="267.85" r="0.75" fill="#000"/>
<circle cx="448.55" cy="268.10" r="0.75" fill="#000"/>
<circle cx="459.75" cy="267.28" r="0.75" fill="#000"/>
<circle cx="475.64" cy="266.66" r="0.75" fill="#000"/>
<circle cx="445.01" cy="265.45" r="0.75" fill="#000"/>
<circle cx="449.48" cy="268.45" r="0.75" fill="#000"/>
<circle cx="460.37" cy="267.67" r="0.75" fill="#000"/>
<circle cx="450.28" cy="267.98" r="0.75" fill="#000"/>
<circle cx="487.26" cy="266.88" r="0.75" fill="#000"/>
<circle cx="460.34" cy="264.52" r="0.75" fill="#000"/>
<circle cx="470.56" cy="264.78" r="0.75" fill="#000"/>
<circle cx="471.92" cy="270.58" r="0.75" fill="#000"/>
<circle cx="451.90" cy="267.09" r="0.75" fill="#000"/>
<circle cx="467.71" cy="263.78" r="0.75" fill="#000"/>
<circle cx="467.37" cy="267.09" r="0.75" fill="#000"/>
<circle cx="462.38" cy="267.29" r="0.75" fill="#000"/>
<circle cx="464.79" cy="265.26" r="0.75" fill="#000"/>
<circle cx="457.98" cy="268.80" r="0.75" fill="#000"/>
<circle cx="452.01" cy="265.00" r="0.75" fill="#000"/>
<circle cx="476.78" cy="263.97" r="0.75" fill="#000"/>
<circle cx="471.86" cy="264.56" r="0.75" fill="#000"/>
<circle cx="461.89" cy="265.43" r="0.75" fill="#000"/>
<circle cx="449.72" cy="267.91" r="0.75" fill="#000"/>
<circle cx="453.41" cy="265.72" r="0.75" fill="#000"/>
<circle cx="455.19" cy="267.43" r="0.75" fill="#000"/>
<circle cx="466.56" cy="263.71" r="0.75" fill="#000"/>
<circle cx="452.73" cy="269.34" r="0.75" fill="#000"/>
<circle cx="471.40" cy="268.76" r="0.75" fill="#000"/>
<circle cx="467.17" cy="267.82" r="0.75" fill="#000"/>
<circle cx="460.69" cy="270.83" r="0.75" fill="#000"/>
<circle cx="470.20" cy="267.51" r="0.75" fill="#000"/>
<circle cx="451.50" cy="262.92" r="0.75" fill="#000"/>
<circle cx="470.18" cy="258.89" r="0.75" fill="#000"/>
<circle cx="466.65" cy="267.37" r="0.75" fill="#000"/>
<circle cx="463.17" cy="263.34" r="0.75" fill="#000"/>
<circle cx="461.61" cy="265.90" r="0.75" fill="#000"/>
<circle cx="487.57" cy="272.97" r="0.75" fill="#000"/>
<circle cx="449.07" cy="258.95" r="0.75" fill="#000"/>
<circle cx="464.16" cy="264.28" r="0.75" fill="#000"/>
<circle cx="453.15" cy="264.86" r="0.75" fill="#000"/>
<circle cx="479.40" cy="250.76" r="0.75" fill="#000"/>
<circle cx="448.49" cy="271.99" r="0.75" fill="#000"/>
<circle cx="469.77" cy="263.49" r="0.75" fill="#000"/>
<circle cx="479.58" cy="270.77" r="0.75" fill="#000"/>
<circle cx="452.50" cy="261.33" r="0.75" fill="#000"/>
<circle cx="444.24" cy="262.65" r="0.75" fill="#000"/>
<circle cx="472.28" cy="271.42" r="0.75" fill="#000"/>
<circle cx="450.19" cy="264.55" r="0.75" fill="#000"/>
<circle cx="452.26" cy="260.64" r="0.75" fill="#000"/>
<circle cx="496.19" cy="253.08" r="0.75" fill="#000"/>
<circle cx="492.73" cy="262.11" r="0.75" fill="#000"/>
<circle cx="494.08" cy="262.66" r="0.75" fill="#000"/>
<circle cx="467.39" cy="263.36" r="0.75" fill="#000"/>
<circle cx="467.66" cy="269.04" r="0.75" fill="#000"/>
<circle cx="470.29" cy="271.04" r="0.75" fill="#000"/>
<circle cx="442.92" cy="260.46" r="0.75" fill="#000"/>
<circle cx="480.42" cy="261.77" r="0.75" fill="#000"/>
<circle cx="466.95" cy="266.92" r="0.75" fill="#000"/>
<circle cx="482.51" cy="267.05" r="0.75" fill="#000"/>
<circle cx="451.20" cy="261.68" r="0.75" fill="#000"/>
<circle cx="470.14" cy="251.50" r="0.75" fill="#000"/>
<circle cx="485.91" cy="262.65" r="0.75" fill="#000"/>
<circle cx="480.62" cy="258.55" r="0.75" fill="#000"/>
<circle cx="464.25" cy="270.19" r="0.75" fill="#000"/>
<circle cx="474.89" cy="280.54" r="0.75" fill="#000"/>
<circle cx="486.08" cy="264.30" r="0.75" fill="#000"/>
<circle cx="456.28" cy="255.62" r="0.75" fill="#000"/>
<circle cx="484.62" cy="268.97" r="0.75" fill="#000"/>
<circle cx="486.61" cy="274.21" r="0.75" fill="#000"/>
<circle cx="490.17" cy="256.86" r="0.75" fill="#000"/>
<circle cx="480.08" cy="262.76" r="0.75" fill="#000"/>
<circle cx="471.30" cy="210.06" r="0.75" fill="#000"/>
<circle cx="478.95" cy="210.67" r="0.75" fill="#000"/>
<circle cx="463.24" cy="215.10" r="0.75" fill="#000"/>
<circle cx="460.63" cy="221.14" r="0.75" fill="#000"/>
<circle cx="458.21" cy="232.21" r="0.75" fill="#000"/>
<circle cx="461.23" cy="231.60" r="0.75" fill="#000"/>
<circle cx="457.81" cy="238.24" r="0.75" fill="#000"/>
<circle cx="470.29" cy="241.26" r="0.75" fill="#000"/>
<circle cx="470.29" cy="246.30" r="0.75" fill="#000"/>
<circle cx="470.89" cy="247.30" r="0.75" fill="#000"/>
<circle cx="482.37" cy="249.32" r="0.75" fill="#000"/>
<circle cx="481.76" cy="251.33" r="0.75" fill="#000"/>
<circle cx="464.25" cy="254.35" r="0.75" fill="#000"/>
<circle cx="468.28" cy="252.74" r="0.75" fill="#000"/>
<circle cx="466.67" cy="258.37" r="0.75" fill="#000"/>
<circle cx="442.11" cy="257.37" r="0.75" fill="#000"/>
<circle cx="509.54" cy="243.28" r="0.75" fill="#000"/>
<circle cx="491.43" cy="279.51" r="0.75" fill="#000"/>
<circle cx="463.24" cy="282.53" r="0.75" fill="#000"/>
<circle cx="460.23" cy="285.95" r="0.75" fill="#000"/>
<circle cx="455.19" cy="315.14" r="0.75" fill="#000"/>
<circle cx="433.05" cy="269.44" r="0.75" fill="#000"/>
<circle cx="431.04" cy="267.43" r="0.75" fill="#000"/>
<circle cx="473.31" cy="251.93" r="0.75" fill="#000"/>
<circle cx="479.35" cy="258.37" r="0.75" fill="#000"/>
<circle cx="483.78" cy="260.39" r="0.75" fill="#000"/>
<circle cx="495.45" cy="260.39" r="0.75" fill="#000"/>
<circle cx="494.44" cy="262.40" r="0.75" fill="#000"/>
<rect x="427.50" y="206.50" width="86.00" height="114.00" fill="none" stroke="#6a6a6a" stroke-width="0.8"/>
<line x1="436.40" y1="320.50" x2="436.40" y2="322.50" stroke="#6a6a6a" stroke-width="0.6"/>
<text x="436.40" y="331.60" font-size="7.4" text-anchor="middle" fill="#333">−2</text>
<line x1="459.60" y1="320.50" x2="459.60" y2="322.50" stroke="#6a6a6a" stroke-width="0.6"/>
<text x="459.60" y="331.60" font-size="7.4" text-anchor="middle" fill="#333">0</text>
<line x1="482.80" y1="320.50" x2="482.80" y2="322.50" stroke="#6a6a6a" stroke-width="0.6"/>
<text x="482.80" y="331.60" font-size="7.4" text-anchor="middle" fill="#333">2</text>
<line x1="506.00" y1="320.50" x2="506.00" y2="322.50" stroke="#6a6a6a" stroke-width="0.6"/>
<text x="506.00" y="331.60" font-size="7.4" text-anchor="middle" fill="#333">4</text>
<line x1="425.50" y1="207.15" x2="427.50" y2="207.15" stroke="#6a6a6a" stroke-width="0.6"/>
<text x="423.00" y="209.75" font-size="7.4" text-anchor="end" fill="#333">30</text>
<line x1="425.50" y1="226.70" x2="427.50" y2="226.70" stroke="#6a6a6a" stroke-width="0.6"/>
<text x="423.00" y="229.30" font-size="7.4" text-anchor="end" fill="#333">20</text>
<line x1="425.50" y1="246.25" x2="427.50" y2="246.25" stroke="#6a6a6a" stroke-width="0.6"/>
<text x="423.00" y="248.85" font-size="7.4" text-anchor="end" fill="#333">10</text>
<line x1="425.50" y1="265.80" x2="427.50" y2="265.80" stroke="#6a6a6a" stroke-width="0.6"/>
<text x="423.00" y="268.40" font-size="7.4" text-anchor="end" fill="#333">0</text>
<line x1="425.50" y1="285.35" x2="427.50" y2="285.35" stroke="#6a6a6a" stroke-width="0.6"/>
<text x="423.00" y="287.95" font-size="7.4" text-anchor="end" fill="#333">−10</text>
<line x1="425.50" y1="304.90" x2="427.50" y2="304.90" stroke="#6a6a6a" stroke-width="0.6"/>
<text x="423.00" y="307.50" font-size="7.4" text-anchor="end" fill="#333">−20</text>
<text x="470.0" y="345.2" font-size="8.4" text-anchor="middle" fill="#2b2b2b" textLength="74.5" lengthAdjust="spacingAndGlyphs">log<tspan font-size="5.6" dy="2">2</tspan><tspan dy="-2"> signal change</tspan></text>
<text x="469.70" y="354.80" font-size="8.4" text-anchor="middle" fill="#2b2b2b">(H3K27ac 1D)</text>
<text x="401.40" y="263.00" font-size="8.6" text-anchor="middle" fill="#2b2b2b" textLength="111.00" lengthAdjust="spacingAndGlyphs" transform="rotate(-90 401.40 263.00)">H3K27ac P–E signal change</text>
<circle cx="492.40" cy="213.70" r="2.9" fill="#e31a1c"/>
<path d="M489.2 218.0 L477.6 227.8" fill="none" stroke="#34476b" stroke-width="0.8"/>
<path d="M488.8 216.2 L486.0 216.8 L488.0 219.4 Z" fill="#34476b"/>
<text x="482.40" y="237.30" font-size="8.6" text-anchor="middle" fill="#e8333b" textLength="24.50" lengthAdjust="spacingAndGlyphs">FGFR1</text>
<text x="526.50" y="191.20" font-size="13" font-weight="bold" fill="#000" stroke="#000" stroke-width="0.35">f</text>
<text x="609.30" y="191.60" font-size="8.6" text-anchor="middle" fill="#2b2b2b" textLength="86.50" lengthAdjust="spacingAndGlyphs">Chr8: 38,553,516-C&gt;T</text>
<text x="608.6" y="201.7" font-size="8.6" text-anchor="middle" textLength="64.5" lengthAdjust="spacingAndGlyphs" fill="#6a4c9c"><tspan font-style="italic">FGFR1</tspan> enhancer</text>
<text x="565.9" y="209.9" font-size="8.6" fill="#2b2b2b" textLength="86.4" lengthAdjust="spacingAndGlyphs">adjusted <tspan font-style="italic">P</tspan><tspan font-size="6.4" dy="2.8">adj</tspan><tspan dy="-2.8">: 1 × 10</tspan><tspan font-size="5.8" dy="-3.5">−85</tspan></text>
<line x1="570.90" y1="329.30" x2="646.30" y2="329.30" stroke="#ececec" stroke-width="1.0"/>
<line x1="570.90" y1="315.25" x2="646.30" y2="315.25" stroke="#ececec" stroke-width="0.6"/>
<line x1="570.90" y1="301.20" x2="646.30" y2="301.20" stroke="#ececec" stroke-width="1.0"/>
<line x1="570.90" y1="287.15" x2="646.30" y2="287.15" stroke="#ececec" stroke-width="0.6"/>
<line x1="570.90" y1="273.10" x2="646.30" y2="273.10" stroke="#ececec" stroke-width="1.0"/>
<line x1="570.90" y1="259.05" x2="646.30" y2="259.05" stroke="#ececec" stroke-width="0.6"/>
<line x1="570.90" y1="245.00" x2="646.30" y2="245.00" stroke="#ececec" stroke-width="1.0"/>
<line x1="570.90" y1="230.95" x2="646.30" y2="230.95" stroke="#ececec" stroke-width="0.6"/>
<line x1="570.90" y1="216.90" x2="646.30" y2="216.90" stroke="#ececec" stroke-width="1.0"/>
<line x1="591.55" y1="211.60" x2="591.55" y2="332.30" stroke="#e6e6e6" stroke-width="1.0"/>
<line x1="626.20" y1="211.60" x2="626.20" y2="332.30" stroke="#e6e6e6" stroke-width="1.0"/>
<rect x="575.90" y="216.90" width="31.30" height="112.40" fill="#6a4c9c"/>
<rect x="575.90" y="295.58" width="31.30" height="33.72" fill="#7f7f7f"/>
<rect x="610.60" y="216.90" width="31.20" height="112.40" fill="#6a4c9c"/>
<rect x="610.60" y="280.97" width="31.20" height="48.33" fill="#7f7f7f"/>
<text x="566.40" y="331.90" font-size="7.4" text-anchor="end" fill="#333">0</text>
<text x="566.40" y="303.80" font-size="7.4" text-anchor="end" fill="#333">0.25</text>
<text x="566.40" y="275.70" font-size="7.4" text-anchor="end" fill="#333">0.50</text>
<text x="566.40" y="247.60" font-size="7.4" text-anchor="end" fill="#333">0.75</text>
<text x="566.40" y="219.50" font-size="7.4" text-anchor="end" fill="#333">1.00</text>
<text x="535.20" y="272.40" font-size="8.4" text-anchor="middle" fill="#2b2b2b" transform="rotate(-90 535.20 272.40)">TCGA-BL-A3JM</text>
<text x="544.40" y="272.40" font-size="8.4" text-anchor="middle" fill="#2b2b2b" transform="rotate(-90 544.40 272.40)">AF</text>
<text x="591.55" y="346.40" font-size="8.4" text-anchor="middle" fill="#2b2b2b">HiChIP</text>
<text x="626.20" y="346.40" font-size="8.4" text-anchor="middle" fill="#2b2b2b">WGS</text>
<text x="524.80" y="355.90" font-size="8.4" fill="#7a5fb0" textLength="50.80" lengthAdjust="spacingAndGlyphs">Mutant allele</text>
<text x="591.30" y="355.90" font-size="8.4" text-anchor="middle" fill="#7a5fb0">63</text>
<text x="626.10" y="355.90" font-size="8.4" text-anchor="middle" fill="#7a5fb0">60</text>
<text x="524.80" y="364.90" font-size="8.4" fill="#2b2b2b" textLength="36.00" lengthAdjust="spacingAndGlyphs">WT allele</text>
<text x="591.30" y="364.90" font-size="8.4" text-anchor="middle" fill="#2b2b2b">27</text>
<text x="626.10" y="364.90" font-size="8.4" text-anchor="middle" fill="#2b2b2b">45</text>
<text x="-0.30" y="397.00" font-size="13" font-weight="bold" fill="#000" stroke="#000" stroke-width="0.35">g</text>
<text x="24.70" y="397.30" font-size="8.8" fill="#2b2b2b" textLength="120.00" lengthAdjust="spacingAndGlyphs">Chr8: 38,397,499–38,721,000</text>
<rect x="21.80" y="400.30" width="215.00" height="161.30" fill="#fff" stroke="#9a9a9a" stroke-width="0.8"/>
<path d="M22.20 429.00 L22.20 422.90 L23.10 422.90 L23.10 415.90 L24.80 415.90 L24.80 414.10 L27.00 414.10 L27.00 421.60 L28.30 421.60 L28.30 414.24 L29.17 414.24 L29.17 413.51 L30.03 413.51 L30.03 413.18 L30.90 413.18 L30.90 419.40 L32.30 419.40 L32.30 413.35 L33.17 413.35 L33.17 414.52 L34.05 414.52 L34.05 413.47 L34.92 413.47 L34.92 418.61 L35.80 418.61 L35.80 421.60 L37.50 421.60 L37.50 424.20 L38.80 424.20 L38.80 417.38 L39.90 417.38 L39.90 414.90 L41.00 414.90 L41.00 424.20 L41.90 424.20 L41.90 404.90 L43.80 404.90 L43.80 419.00 L45.00 419.00 L45.00 415.00 L46.10 415.00 L46.10 421.10 L48.00 421.10 L48.00 420.20 L49.30 420.20 L49.30 424.20 L50.20 424.20 L50.20 414.10 L51.10 414.10 L51.10 406.20 L52.60 406.20 L52.60 419.80 L54.60 419.80 L54.60 423.30 L55.90 423.30 L55.90 416.70 L57.20 416.70 L57.20 419.00 L58.50 419.00 L58.50 422.90 L59.90 422.90 L59.90 419.80 L61.20 419.80 L61.20 421.10 L63.40 421.10 L63.40 411.50 L65.10 411.50 L65.10 422.00 L66.40 422.00 L66.40 427.70 L67.30 427.70 L67.30 402.70 L69.10 402.70 L69.10 418.50 L70.40 418.50 L70.40 418.77 L71.27 418.77 L71.27 417.71 L72.13 417.71 L72.13 421.03 L73.00 421.03 L73.00 423.70 L73.90 423.70 L73.90 419.80 L76.10 419.80 L76.10 416.70 L77.40 416.70 L77.40 411.50 L78.70 411.50 L78.70 412.00 L79.30 412.00 L79.30 401.00 L81.10 401.00 L81.10 403.60 L82.80 403.60 L82.80 415.40 L84.10 415.40 L84.10 420.70 L85.90 420.70 L85.90 414.50 L87.20 414.50 L87.20 412.40 L88.10 412.40 L88.10 415.90 L89.80 415.90 L89.80 424.20 L91.60 424.20 L91.60 418.00 L92.90 418.00 L92.90 423.30 L93.80 423.30 L93.80 421.10 L95.10 421.10 L95.10 423.30 L96.40 423.30 L96.40 412.40 L98.10 412.40 L98.10 405.40 L99.90 405.40 L99.90 408.90 L101.60 408.90 L101.60 415.40 L103.00 415.40 L103.00 422.40 L104.30 422.40 L104.30 423.30 L106.00 423.30 L106.00 415.40 L107.30 415.40 L107.30 408.40 L108.20 408.40 L108.20 403.60 L110.00 403.60 L110.00 416.70 L111.30 416.70 L111.30 424.20 L113.00 424.20 L113.00 420.20 L114.80 420.20 L114.80 419.40 L116.50 419.40 L116.50 423.30 L117.90 423.30 L117.90 419.40 L120.00 419.40 L120.00 420.70 L121.80 420.70 L121.80 418.50 L123.50 418.50 L123.50 405.80 L124.40 405.80 L124.40 405.00 L125.70 405.00 L125.70 403.60 L127.00 403.60 L127.00 406.70 L127.90 406.70 L127.90 403.20 L129.70 403.20 L129.70 416.30 L131.40 416.30 L131.40 406.20 L133.60 406.20 L133.60 419.80 L134.90 419.80 L134.90 421.60 L136.00 421.60 L136.00 421.10 L137.30 421.10 L137.30 416.70 L138.60 416.70 L138.60 410.20 L139.90 410.20 L139.90 413.42 L140.80 413.42 L140.80 414.96 L141.70 414.96 L141.70 412.90 L142.60 412.90 L142.60 412.40 L144.30 412.40 L144.30 407.50 L145.20 407.50 L145.20 403.60 L146.10 403.60 L146.10 412.00 L147.80 412.00 L147.80 408.40 L149.60 408.40 L149.60 424.20 L150.90 424.20 L150.90 419.40 L153.10 419.40 L153.10 420.84 L154.10 420.84 L154.10 422.79 L155.10 422.79 L155.10 422.08 L156.10 422.08 L156.10 423.70 L157.50 423.70 L157.50 412.00 L159.20 412.00 L159.20 418.50 L160.50 418.50 L160.50 418.50 L162.30 418.50 L162.30 422.32 L163.17 422.32 L163.17 420.24 L164.03 420.24 L164.03 420.73 L164.90 420.73 L164.90 422.28 L165.88 422.28 L165.88 420.07 L166.85 420.07 L166.85 422.36 L167.83 422.36 L167.83 420.69 L168.80 420.69 L168.80 425.50 L170.20 425.50 L170.20 412.00 L171.50 412.00 L171.50 406.20 L172.80 406.20 L172.80 415.40 L175.00 415.40 L175.00 416.70 L176.70 416.70 L176.70 422.40 L177.80 422.40 L177.80 422.83 L178.90 422.83 L178.90 422.37 L179.90 422.37 L179.90 424.03 L180.90 424.03 L180.90 424.01 L181.90 424.01 L181.90 422.09 L182.90 422.09 L182.90 411.00 L184.20 411.00 L184.20 423.30 L185.10 423.30 L185.10 409.30 L186.80 409.30 L186.80 419.81 L187.78 419.81 L187.78 421.83 L188.75 421.83 L188.75 419.50 L189.72 419.50 L189.72 420.96 L190.70 420.96 L190.70 422.10 L191.10 422.10 L191.10 426.80 L192.90 426.80 L192.90 423.50 L193.87 423.50 L193.87 424.56 L194.83 424.56 L194.83 422.91 L195.80 422.91 L195.80 421.00 L197.70 421.00 L197.70 423.47 L198.95 423.47 L198.95 422.85 L200.20 422.85 L200.20 425.70 L201.70 425.70 L201.70 423.49 L202.60 423.49 L202.60 424.72 L203.50 424.72 L203.50 424.59 L204.40 424.59 L204.40 424.99 L205.30 424.99 L205.30 422.10 L207.20 422.10 L207.20 425.62 L208.45 425.62 L208.45 425.77 L209.70 425.77 L209.70 420.97 L210.80 420.97 L210.80 419.80 L211.90 419.80 L211.90 424.60 L213.40 424.60 L213.40 419.90 L214.80 419.90 L214.80 425.56 L215.77 425.56 L215.77 424.26 L216.73 424.26 L216.73 424.91 L217.70 424.91 L217.70 421.00 L219.20 421.00 L219.20 411.10 L221.00 411.10 L221.00 422.80 L223.20 422.80 L223.20 419.90 L225.00 419.90 L225.00 416.20 L226.90 416.20 L226.90 420.60 L229.00 420.60 L229.00 418.10 L230.90 418.10 L230.90 400.80 L232.70 400.80 L232.70 419.10 L234.20 419.10 L234.20 414.00 L235.60 414.00 L235.60 424.30 L236.40 424.30 L236.40 429.00 Z" fill="#6a4c9c"/>
<path d="M22.20 458.20 L22.20 456.90 L23.90 456.90 L23.90 451.20 L25.30 451.20 L25.30 445.50 L27.00 445.50 L27.00 451.60 L28.80 451.60 L28.80 448.60 L30.50 448.60 L30.50 454.25 L31.60 454.25 L31.60 454.20 L32.70 454.20 L32.70 456.90 L34.00 456.90 L34.00 450.30 L35.80 450.30 L35.80 455.12 L36.77 455.12 L36.77 455.43 L37.75 455.43 L37.75 455.78 L38.73 455.78 L38.73 454.88 L39.70 454.88 L39.70 457.71 L40.57 457.71 L40.57 457.64 L41.43 457.64 L41.43 457.73 L42.30 457.73 L42.30 449.40 L44.10 449.40 L44.10 454.30 L46.30 454.30 L46.30 457.70 L48.00 457.70 L48.00 454.30 L49.80 454.30 L49.80 457.20 L51.10 457.20 L51.10 451.60 L52.80 451.60 L52.80 452.83 L53.86 452.83 L53.86 453.88 L54.92 453.88 L54.92 452.76 L55.98 452.76 L55.98 452.91 L57.04 452.91 L57.04 453.58 L58.10 453.58 L58.10 457.20 L59.90 457.20 L59.90 454.70 L62.00 454.70 L62.00 457.20 L63.40 457.20 L63.40 450.80 L65.10 450.80 L65.10 457.20 L66.90 457.20 L66.90 447.30 L68.60 447.30 L68.60 455.96 L69.63 455.96 L69.63 455.82 L70.67 455.82 L70.67 456.30 L71.70 456.30 L71.70 457.69 L72.70 457.69 L72.70 457.63 L73.70 457.63 L73.70 457.75 L74.70 457.75 L74.70 449.25 L75.58 449.25 L75.58 449.65 L76.45 449.65 L76.45 449.10 L77.33 449.10 L77.33 450.87 L78.20 450.87 L78.20 452.50 L78.90 452.50 L78.90 457.20 L81.10 457.20 L81.10 455.65 L82.20 455.65 L82.20 454.69 L83.30 454.69 L83.30 457.00 L84.60 457.00 L84.60 453.40 L85.90 453.40 L85.90 455.10 L87.60 455.10 L87.60 450.71 L88.70 450.71 L88.70 451.76 L89.80 451.76 L89.80 454.70 L91.10 454.70 L91.10 457.20 L92.00 457.20 L92.00 456.06 L92.87 456.06 L92.87 455.95 L93.73 455.95 L93.73 455.45 L94.60 455.45 L94.60 457.20 L96.00 457.20 L96.00 448.20 L97.70 448.20 L97.70 452.21 L98.80 452.21 L98.80 450.29 L99.90 450.29 L99.90 455.60 L102.10 455.60 L102.10 453.40 L103.80 453.40 L103.80 457.20 L105.20 457.20 L105.20 455.50 L106.20 455.50 L106.20 455.94 L107.20 455.94 L107.20 455.42 L108.20 455.42 L108.20 452.85 L109.30 452.85 L109.30 451.41 L110.40 451.41 L110.40 457.61 L111.46 457.61 L111.46 457.70 L112.52 457.70 L112.52 457.67 L113.58 457.67 L113.58 457.66 L114.64 457.66 L114.64 457.63 L115.70 457.63 L115.70 451.31 L116.80 451.31 L116.80 453.68 L117.90 453.68 L117.90 455.10 L120.00 455.10 L120.00 453.69 L120.88 453.69 L120.88 453.19 L121.75 453.19 L121.75 453.81 L122.62 453.81 L122.62 453.21 L123.50 453.21 L123.50 449.40 L124.90 449.40 L124.90 442.90 L126.60 442.90 L126.60 452.10 L127.90 452.10 L127.90 454.30 L129.70 454.30 L129.70 452.79 L130.80 452.79 L130.80 450.50 L131.90 450.50 L131.90 456.40 L134.10 456.40 L134.10 453.40 L135.80 453.40 L135.80 456.70 L136.70 456.70 L136.70 446.40 L138.60 446.40 L138.60 455.07 L139.63 455.07 L139.63 455.62 L140.67 455.62 L140.67 454.88 L141.70 454.88 L141.70 453.34 L142.80 453.34 L142.80 453.61 L143.90 453.61 L143.90 457.90 L144.86 457.90 L144.86 457.90 L145.82 457.90 L145.82 457.90 L146.78 457.90 L146.78 457.85 L147.74 457.85 L147.74 457.87 L148.70 457.87 L148.70 457.90 L149.66 457.90 L149.66 457.86 L150.62 457.86 L150.62 457.90 L151.58 457.90 L151.58 457.90 L152.54 457.90 L152.54 457.85 L153.50 457.85 L153.50 454.30 L155.70 454.30 L155.70 457.36 L156.57 457.36 L156.57 457.47 L157.43 457.47 L157.43 457.44 L158.30 457.44 L158.30 456.11 L159.28 456.11 L159.28 456.36 L160.26 456.36 L160.26 455.52 L161.24 455.52 L161.24 456.43 L162.22 456.43 L162.22 456.07 L163.20 456.07 L163.20 457.40 L164.50 457.40 L164.50 449.40 L166.20 449.40 L166.20 457.20 L167.30 457.20 L167.30 457.34 L168.40 457.34 L168.40 457.11 L169.50 457.11 L169.50 457.40 L170.60 457.40 L170.60 452.39 L171.70 452.39 L171.70 452.57 L172.80 452.57 L172.80 455.84 L173.83 455.84 L173.83 455.62 L174.87 455.62 L174.87 456.05 L175.90 456.05 L175.90 457.28 L176.88 457.28 L176.88 457.30 L177.85 457.30 L177.85 457.39 L178.83 457.39 L178.83 457.41 L179.80 457.41 L179.80 454.30 L181.50 454.30 L181.50 456.24 L182.38 456.24 L182.38 456.47 L183.25 456.47 L183.25 456.73 L184.12 456.73 L184.12 456.20 L185.00 456.20 L185.00 454.70 L187.00 454.70 L187.00 455.70 L189.00 455.70 L189.00 454.20 L191.00 454.20 L191.00 455.20 L193.00 455.20 L193.00 454.16 L194.00 454.16 L194.00 453.72 L195.00 453.72 L195.00 453.14 L196.00 453.14 L196.00 456.06 L197.00 456.06 L197.00 456.23 L198.00 456.23 L198.00 456.11 L199.00 456.11 L199.00 454.04 L200.00 454.04 L200.00 454.44 L201.00 454.44 L201.00 454.63 L202.00 454.63 L202.00 456.24 L203.00 456.24 L203.00 455.82 L204.00 455.82 L204.00 456.42 L205.00 456.42 L205.00 453.88 L206.00 453.88 L206.00 452.95 L207.00 452.95 L207.00 453.48 L208.00 453.48 L208.00 455.51 L209.00 455.51 L209.00 455.23 L210.00 455.23 L210.00 455.23 L211.00 455.23 L211.00 454.83 L212.00 454.83 L212.00 454.42 L213.00 454.42 L213.00 454.54 L214.00 454.54 L214.00 455.36 L215.00 455.36 L215.00 455.89 L216.00 455.89 L216.00 455.52 L217.00 455.52 L217.00 452.16 L218.00 452.16 L218.00 452.27 L219.00 452.27 L219.00 453.47 L220.00 453.47 L220.00 455.06 L221.00 455.06 L221.00 455.44 L222.00 455.44 L222.00 455.33 L223.00 455.33 L223.00 453.72 L224.00 453.72 L224.00 453.12 L225.00 453.12 L225.00 452.84 L226.00 452.84 L226.00 455.48 L227.00 455.48 L227.00 455.85 L228.00 455.85 L228.00 455.27 L229.00 455.27 L229.00 454.58 L230.00 454.58 L230.00 454.63 L231.00 454.63 L231.00 453.16 L232.00 453.16 L232.00 455.30 L233.10 455.30 L233.10 454.36 L234.20 454.36 L234.20 454.91 L235.30 454.91 L235.30 454.02 L236.40 454.02 L236.40 458.20 Z" fill="#7f7f7f"/>
<path d="M22.20 486.80 L22.20 482.50 L23.30 482.50 L23.30 484.61 L24.50 484.61 L24.50 484.91 L25.70 484.91 L25.70 482.30 L27.60 482.30 L27.60 480.80 L29.60 480.80 L29.60 475.20 L31.20 475.20 L31.20 481.27 L32.40 481.27 L32.40 483.30 L33.60 483.30 L33.60 483.21 L34.80 483.21 L34.80 483.63 L36.00 483.63 L36.00 485.42 L37.25 485.42 L37.25 484.79 L38.50 484.79 L38.50 484.10 L39.70 484.10 L39.70 482.99 L40.90 482.99 L40.90 484.70 L41.97 484.70 L41.97 484.66 L43.03 484.66 L43.03 483.96 L44.10 483.96 L44.10 483.30 L45.70 483.30 L45.70 483.73 L46.70 483.73 L46.70 484.96 L47.70 484.96 L47.70 484.78 L48.70 484.78 L48.70 484.08 L49.70 484.08 L49.70 478.92 L50.85 478.92 L50.85 480.48 L52.00 480.48 L52.00 482.30 L54.00 482.30 L54.00 480.30 L56.00 480.30 L56.00 481.80 L57.70 481.80 L57.70 484.02 L58.78 484.02 L58.78 482.80 L59.85 482.80 L59.85 484.75 L60.92 484.75 L60.92 483.05 L62.00 483.05 L62.00 484.67 L62.92 484.67 L62.92 484.92 L63.84 484.92 L63.84 484.97 L64.76 484.97 L64.76 484.64 L65.68 484.64 L65.68 483.75 L66.60 483.75 L66.60 476.80 L68.20 476.80 L68.20 482.80 L69.40 482.80 L69.40 483.80 L71.40 483.80 L71.40 484.86 L72.32 484.86 L72.32 484.16 L73.24 484.16 L73.24 484.06 L74.16 484.06 L74.16 484.52 L75.08 484.52 L75.08 484.22 L76.00 484.22 L76.00 484.37 L77.00 484.37 L77.00 484.38 L78.00 484.38 L78.00 484.02 L79.00 484.02 L79.00 482.86 L80.00 482.86 L80.00 484.43 L81.00 484.43 L81.00 484.63 L82.00 484.63 L82.00 484.15 L83.00 484.15 L83.00 484.38 L84.00 484.38 L84.00 484.65 L85.00 484.65 L85.00 481.98 L86.00 481.98 L86.00 482.24 L87.00 482.24 L87.00 483.52 L88.00 483.52 L88.00 482.59 L89.00 482.59 L89.00 482.73 L90.00 482.73 L90.00 483.01 L91.00 483.01 L91.00 483.32 L92.00 483.32 L92.00 484.25 L93.00 484.25 L93.00 482.79 L94.00 482.79 L94.00 484.60 L95.00 484.60 L95.00 482.30 L97.00 482.30 L97.00 483.97 L98.00 483.97 L98.00 483.26 L99.00 483.26 L99.00 484.53 L100.00 484.53 L100.00 482.33 L101.00 482.33 L101.00 483.75 L102.00 483.75 L102.00 481.77 L103.00 481.77 L103.00 481.47 L104.00 481.47 L104.00 484.17 L105.00 484.17 L105.00 483.64 L106.00 483.64 L106.00 484.63 L107.00 484.63 L107.00 483.96 L108.00 483.96 L108.00 483.07 L109.00 483.07 L109.00 483.10 L110.00 483.10 L110.00 483.41 L111.00 483.41 L111.00 482.47 L112.00 482.47 L112.00 483.52 L113.00 483.52 L113.00 484.35 L114.00 484.35 L114.00 484.01 L115.00 484.01 L115.00 485.07 L116.00 485.07 L116.00 483.95 L117.00 483.95 L117.00 484.04 L118.00 484.04 L118.00 481.42 L119.00 481.42 L119.00 481.90 L120.00 481.90 L120.00 483.40 L121.00 483.40 L121.00 483.12 L122.00 483.12 L122.00 482.33 L123.00 482.33 L123.00 484.14 L124.00 484.14 L124.00 483.88 L125.00 483.88 L125.00 484.50 L126.00 484.50 L126.00 484.60 L127.00 484.60 L127.00 484.73 L128.00 484.73 L128.00 483.83 L129.00 483.83 L129.00 484.95 L130.00 484.95 L130.00 484.74 L131.00 484.74 L131.00 484.49 L132.00 484.49 L132.00 483.65 L133.00 483.65 L133.00 484.33 L134.00 484.33 L134.00 483.42 L135.00 483.42 L135.00 483.18 L136.00 483.18 L136.00 482.36 L137.00 482.36 L137.00 482.52 L138.00 482.52 L138.00 483.66 L139.00 483.66 L139.00 484.69 L140.00 484.69 L140.00 484.45 L141.00 484.45 L141.00 484.55 L142.00 484.55 L142.00 483.63 L143.00 483.63 L143.00 482.18 L144.00 482.18 L144.00 484.16 L145.00 484.16 L145.00 484.09 L146.00 484.09 L146.00 483.96 L147.00 483.96 L147.00 483.95 L148.00 483.95 L148.00 484.33 L149.00 484.33 L149.00 484.14 L150.00 484.14 L150.00 484.72 L151.00 484.72 L151.00 485.17 L152.00 485.17 L152.00 484.44 L153.00 484.44 L153.00 483.17 L154.00 483.17 L154.00 482.61 L155.00 482.61 L155.00 481.53 L156.00 481.53 L156.00 482.27 L157.00 482.27 L157.00 482.76 L158.00 482.76 L158.00 484.09 L159.00 484.09 L159.00 483.99 L160.00 483.99 L160.00 485.08 L161.00 485.08 L161.00 483.60 L162.00 483.60 L162.00 483.81 L163.00 483.81 L163.00 481.75 L164.00 481.75 L164.00 481.97 L165.00 481.97 L165.00 483.10 L166.00 483.10 L166.00 483.08 L167.00 483.08 L167.00 483.91 L168.00 483.91 L168.00 483.52 L169.00 483.52 L169.00 484.72 L170.00 484.72 L170.00 484.71 L171.00 484.71 L171.00 484.41 L172.00 484.41 L172.00 484.51 L173.00 484.51 L173.00 483.69 L174.00 483.69 L174.00 484.40 L175.00 484.40 L175.00 484.52 L176.00 484.52 L176.00 484.15 L177.00 484.15 L177.00 484.28 L178.00 484.28 L178.00 484.54 L179.00 484.54 L179.00 485.13 L180.00 485.13 L180.00 483.64 L181.00 483.64 L181.00 484.10 L182.00 484.10 L182.00 484.92 L183.00 484.92 L183.00 483.49 L184.00 483.49 L184.00 483.23 L185.00 483.23 L185.00 483.18 L186.00 483.18 L186.00 483.86 L187.00 483.86 L187.00 481.82 L188.00 481.82 L188.00 482.76 L189.00 482.76 L189.00 483.87 L190.00 483.87 L190.00 483.83 L191.00 483.83 L191.00 484.67 L192.00 484.67 L192.00 484.64 L193.00 484.64 L193.00 483.24 L194.00 483.24 L194.00 483.46 L195.00 483.46 L195.00 481.88 L196.00 481.88 L196.00 483.75 L197.00 483.75 L197.00 484.14 L198.00 484.14 L198.00 483.51 L199.00 483.51 L199.00 484.25 L200.00 484.25 L200.00 484.92 L201.00 484.92 L201.00 484.22 L202.00 484.22 L202.00 485.13 L203.00 485.13 L203.00 483.23 L204.00 483.23 L204.00 482.13 L205.00 482.13 L205.00 482.41 L206.00 482.41 L206.00 482.82 L207.00 482.82 L207.00 483.89 L208.00 483.89 L208.00 484.53 L209.00 484.53 L209.00 484.88 L210.00 484.88 L210.00 483.82 L211.00 483.82 L211.00 484.24 L212.00 484.24 L212.00 483.81 L213.00 483.81 L213.00 483.72 L214.00 483.72 L214.00 483.98 L215.00 483.98 L215.00 482.54 L216.00 482.54 L216.00 482.11 L217.00 482.11 L217.00 482.44 L218.00 482.44 L218.00 483.16 L219.00 483.16 L219.00 483.13 L220.00 483.13 L220.00 483.30 L221.00 483.30 L221.00 484.37 L222.00 484.37 L222.00 483.76 L223.00 483.76 L223.00 483.20 L223.88 483.20 L223.88 484.12 L224.75 484.12 L224.75 484.12 L225.62 484.12 L225.62 483.42 L226.50 483.42 L226.50 480.30 L228.50 480.30 L228.50 484.31 L229.38 484.31 L229.38 483.40 L230.25 483.40 L230.25 482.84 L231.12 482.84 L231.12 483.91 L232.00 483.91 L232.00 481.58 L233.10 481.58 L233.10 481.43 L234.20 481.43 L234.20 481.53 L235.30 481.53 L235.30 483.18 L236.40 483.18 L236.40 486.80 Z" fill="#7f7f7f"/>
<path d="M22.20 516.20 L22.20 514.20 L22.50 514.20 L22.50 510.20 L23.50 510.20 L23.50 506.20 L24.80 506.20 L24.80 508.20 L26.00 508.20 L26.00 495.20 L27.20 495.20 L27.20 502.20 L28.20 502.20 L28.20 490.20 L29.80 490.20 L29.80 499.20 L31.20 499.20 L31.20 508.20 L32.50 508.20 L32.50 512.20 L34.00 512.20 L34.00 514.20 L36.00 514.20 L36.00 514.99 L37.00 514.99 L37.00 514.21 L38.00 514.21 L38.00 515.09 L39.00 515.09 L39.00 514.48 L40.00 514.48 L40.00 514.64 L41.00 514.64 L41.00 514.39 L42.00 514.39 L42.00 513.23 L43.00 513.23 L43.00 514.45 L44.00 514.45 L44.00 513.78 L45.00 513.78 L45.00 515.03 L46.00 515.03 L46.00 515.04 L47.00 515.04 L47.00 515.00 L48.00 515.00 L48.00 514.24 L49.00 514.24 L49.00 513.12 L50.00 513.12 L50.00 514.42 L51.00 514.42 L51.00 514.17 L52.00 514.17 L52.00 515.20 L53.00 515.20 L53.00 514.94 L54.00 514.94 L54.00 514.80 L55.00 514.80 L55.00 514.28 L56.00 514.28 L56.00 514.19 L57.00 514.19 L57.00 514.59 L58.00 514.59 L58.00 514.37 L59.00 514.37 L59.00 513.24 L60.00 513.24 L60.00 515.37 L61.00 515.37 L61.00 514.90 L62.00 514.90 L62.00 515.10 L63.00 515.10 L63.00 514.86 L64.00 514.86 L64.00 515.14 L65.00 515.14 L65.00 513.93 L66.00 513.93 L66.00 514.20 L67.00 514.20 L67.00 513.99 L68.00 513.99 L68.00 513.64 L69.00 513.64 L69.00 514.09 L70.00 514.09 L70.00 515.08 L71.00 515.08 L71.00 515.16 L72.00 515.16 L72.00 514.23 L73.00 514.23 L73.00 514.71 L74.00 514.71 L74.00 515.02 L75.00 515.02 L75.00 513.18 L76.00 513.18 L76.00 513.77 L77.00 513.77 L77.00 513.53 L78.00 513.53 L78.00 513.29 L79.00 513.29 L79.00 514.25 L80.00 514.25 L80.00 514.94 L81.00 514.94 L81.00 514.43 L82.00 514.43 L82.00 515.16 L83.00 515.16 L83.00 514.54 L84.00 514.54 L84.00 515.19 L85.00 515.19 L85.00 513.93 L86.00 513.93 L86.00 513.92 L87.00 513.92 L87.00 513.57 L88.00 513.57 L88.00 513.72 L89.00 513.72 L89.00 514.19 L90.00 514.19 L90.00 515.18 L91.00 515.18 L91.00 515.22 L92.00 515.22 L92.00 514.87 L93.00 514.87 L93.00 514.89 L94.00 514.89 L94.00 515.29 L95.00 515.29 L95.00 513.38 L96.00 513.38 L96.00 513.99 L97.00 513.99 L97.00 513.69 L98.00 513.69 L98.00 514.43 L99.00 514.43 L99.00 514.39 L100.00 514.39 L100.00 515.21 L101.00 515.21 L101.00 514.86 L102.00 514.86 L102.00 514.94 L103.00 514.94 L103.00 514.78 L104.00 514.78 L104.00 514.83 L105.00 514.83 L105.00 513.11 L106.00 513.11 L106.00 513.01 L107.00 513.01 L107.00 514.27 L108.00 514.27 L108.00 513.88 L109.00 513.88 L109.00 514.28 L110.00 514.28 L110.00 514.75 L111.00 514.75 L111.00 514.47 L112.00 514.47 L112.00 515.17 L113.00 515.17 L113.00 514.66 L114.00 514.66 L114.00 515.08 L115.00 515.08 L115.00 514.88 L116.00 514.88 L116.00 513.83 L117.00 513.83 L117.00 514.42 L118.00 514.42 L118.00 514.66 L119.00 514.66 L119.00 514.29 L120.00 514.29 L120.00 514.98 L121.00 514.98 L121.00 514.79 L122.00 514.79 L122.00 514.76 L123.00 514.76 L123.00 514.79 L124.00 514.79 L124.00 514.61 L125.00 514.61 L125.00 514.33 L126.00 514.33 L126.00 514.62 L127.00 514.62 L127.00 514.64 L128.00 514.64 L128.00 514.61 L129.00 514.61 L129.00 513.97 L130.00 513.97 L130.00 515.03 L131.00 515.03 L131.00 514.62 L132.00 514.62 L132.00 514.90 L133.00 514.90 L133.00 514.71 L134.00 514.71 L134.00 514.46 L135.00 514.46 L135.00 514.81 L136.00 514.81 L136.00 514.88 L137.00 514.88 L137.00 514.70 L138.00 514.70 L138.00 514.36 L139.00 514.36 L139.00 514.10 L140.00 514.10 L140.00 514.44 L141.00 514.44 L141.00 514.86 L142.00 514.86 L142.00 514.21 L143.00 514.21 L143.00 515.22 L144.00 515.22 L144.00 514.35 L145.00 514.35 L145.00 514.21 L146.00 514.21 L146.00 513.04 L147.00 513.04 L147.00 514.52 L148.00 514.52 L148.00 512.89 L149.00 512.89 L149.00 513.25 L150.00 513.25 L150.00 514.59 L151.00 514.59 L151.00 514.93 L152.00 514.93 L152.00 515.27 L153.00 515.27 L153.00 514.61 L154.00 514.61 L154.00 515.05 L155.00 515.05 L155.00 514.78 L156.00 514.78 L156.00 514.05 L157.00 514.05 L157.00 514.20 L158.00 514.20 L158.00 514.24 L159.00 514.24 L159.00 514.68 L160.00 514.68 L160.00 515.10 L161.00 515.10 L161.00 514.62 L162.00 514.62 L162.00 514.75 L163.00 514.75 L163.00 515.09 L164.00 515.09 L164.00 514.76 L165.00 514.76 L165.00 513.65 L166.00 513.65 L166.00 513.67 L167.00 513.67 L167.00 514.04 L168.00 514.04 L168.00 514.16 L169.00 514.16 L169.00 514.21 L170.00 514.21 L170.00 515.15 L171.00 515.15 L171.00 515.18 L172.00 515.18 L172.00 514.95 L173.00 514.95 L173.00 515.26 L174.00 515.26 L174.00 514.70 L175.00 514.70 L175.00 513.91 L176.00 513.91 L176.00 514.04 L177.00 514.04 L177.00 514.87 L178.00 514.87 L178.00 514.39 L179.00 514.39 L179.00 514.29 L180.00 514.29 L180.00 515.13 L181.00 515.13 L181.00 514.21 L182.00 514.21 L182.00 514.43 L183.00 514.43 L183.00 514.70 L184.00 514.70 L184.00 514.48 L185.00 514.48 L185.00 514.38 L186.00 514.38 L186.00 514.34 L187.00 514.34 L187.00 513.86 L188.00 513.86 L188.00 513.51 L189.00 513.51 L189.00 513.66 L190.00 513.66 L190.00 515.35 L191.00 515.35 L191.00 514.80 L192.00 514.80 L192.00 514.53 L193.00 514.53 L193.00 514.68 L194.00 514.68 L194.00 514.51 L195.00 514.51 L195.00 513.53 L196.00 513.53 L196.00 514.59 L197.00 514.59 L197.00 514.49 L198.00 514.49 L198.00 514.13 L199.00 514.13 L199.00 513.53 L200.00 513.53 L200.00 514.84 L201.00 514.84 L201.00 514.24 L202.00 514.24 L202.00 514.33 L203.00 514.33 L203.00 514.68 L204.00 514.68 L204.00 514.57 L205.00 514.57 L205.00 513.30 L206.00 513.30 L206.00 513.56 L207.00 513.56 L207.00 514.31 L208.00 514.31 L208.00 513.47 L209.00 513.47 L209.00 514.47 L210.00 514.47 L210.00 515.11 L211.00 515.11 L211.00 514.61 L212.00 514.61 L212.00 514.71 L213.00 514.71 L213.00 515.16 L214.00 515.16 L214.00 515.18 L215.00 515.18 L215.00 514.04 L216.00 514.04 L216.00 513.72 L217.00 513.72 L217.00 513.94 L218.00 513.94 L218.00 513.59 L219.00 513.59 L219.00 513.88 L220.00 513.88 L220.00 514.36 L221.00 514.36 L221.00 514.59 L222.00 514.59 L222.00 514.84 L223.00 514.84 L223.00 514.78 L224.00 514.78 L224.00 514.71 L225.00 514.71 L225.00 513.85 L226.00 513.85 L226.00 513.36 L227.00 513.36 L227.00 514.27 L228.00 514.27 L228.00 514.59 L229.00 514.59 L229.00 513.52 L230.00 513.52 L230.00 513.85 L231.07 513.85 L231.07 513.56 L232.13 513.56 L232.13 514.15 L233.20 514.15 L233.20 512.75 L234.27 512.75 L234.27 513.84 L235.33 513.84 L235.33 513.81 L236.40 513.81 L236.40 516.20 Z" fill="#7f7f7f"/>
<line x1="21.80" y1="429.00" x2="236.80" y2="429.00" stroke="#333" stroke-width="1.5"/>
<line x1="21.80" y1="458.20" x2="236.80" y2="458.20" stroke="#333" stroke-width="1.5"/>
<line x1="21.80" y1="486.80" x2="236.80" y2="486.80" stroke="#333" stroke-width="1.5"/>
<line x1="21.80" y1="516.20" x2="236.80" y2="516.20" stroke="#333" stroke-width="1.5"/>
<line x1="21.80" y1="546.60" x2="236.80" y2="546.60" stroke="#9a9a9a" stroke-width="0.8"/>
<text x="233.30" y="409.20" font-size="7.0" text-anchor="end" fill="#222" textLength="75.60" lengthAdjust="spacingAndGlyphs">TCGA-BL-A3JM (BLCA)</text>
<text x="233.30" y="438.00" font-size="7.0" text-anchor="end" fill="#222" textLength="72.20" lengthAdjust="spacingAndGlyphs">TCGA-BL-A13J (BLCA)</text>
<text x="233.30" y="467.20" font-size="7.0" text-anchor="end" fill="#222" textLength="76.40" lengthAdjust="spacingAndGlyphs">TCGA-CU-A3YL (BLCA)</text>
<text x="233.30" y="495.80" font-size="7.0" text-anchor="end" fill="#222" textLength="75.60" lengthAdjust="spacingAndGlyphs">TCGA-CF-A3MI (BLCA)</text>
<path d="M78.40 517.50 A34.15 12.40 0 0 0 146.70 517.50" fill="none" stroke="#d9d9d9" stroke-width="1.2"/>
<path d="M73.90 517.50 A26.55 9.80 0 0 0 127.00 517.50" fill="none" stroke="#9fc1e8" stroke-width="1.4"/>
<path d="M73.40 517.60 A76.70 26.70 0 0 0 226.80 517.60" fill="none" stroke="#5a8fd8" stroke-width="1.4"/>
<path d="M73.20 517.60 A80.10 27.40 0 0 0 233.40 517.60" fill="none" stroke="#111" stroke-width="1.7"/>
<line x1="125.60" y1="400.80" x2="125.60" y2="546.40" stroke="#ec7c80" stroke-width="0.5"/>
<rect x="24.20" y="552.00" width="45.20" height="4.90" fill="#3a78c2"/>
<rect x="31.30" y="548.40" width="12.50" height="11.30" fill="#3a78c2"/>
<line x1="34.90" y1="548.40" x2="34.90" y2="559.70" stroke="#dfe9f6" stroke-width="0.5"/>
<line x1="38.40" y1="548.40" x2="38.40" y2="559.70" stroke="#dfe9f6" stroke-width="0.5"/>
<line x1="41.10" y1="548.40" x2="41.10" y2="559.70" stroke="#dfe9f6" stroke-width="0.5"/>
<line x1="25.00" y1="548.60" x2="25.00" y2="559.60" stroke="#a9c4e8" stroke-width="0.5"/>
<line x1="28.60" y1="548.60" x2="28.60" y2="559.60" stroke="#a9c4e8" stroke-width="0.5"/>
<line x1="51.00" y1="548.60" x2="51.00" y2="559.60" stroke="#a9c4e8" stroke-width="0.5"/>
<line x1="61.70" y1="548.60" x2="61.70" y2="559.60" stroke="#a9c4e8" stroke-width="0.5"/>
<line x1="64.40" y1="548.60" x2="64.40" y2="559.60" stroke="#a9c4e8" stroke-width="0.5"/>
<line x1="67.10" y1="548.60" x2="67.10" y2="559.60" stroke="#a9c4e8" stroke-width="0.5"/>
<line x1="69.30" y1="548.60" x2="69.30" y2="559.60" stroke="#a9c4e8" stroke-width="0.5"/>
<text x="70.60" y="557.40" font-size="8.6" fill="#3a78c2" font-style="italic" textLength="24.40" lengthAdjust="spacingAndGlyphs">FGFR1</text>
<line x1="33.70" y1="561.60" x2="33.70" y2="563.60" stroke="#666" stroke-width="0.6"/>
<text x="33.70" y="574.20" font-size="7.8" text-anchor="middle" fill="#2b2b2b">38.4</text>
<line x1="90.60" y1="561.60" x2="90.60" y2="563.60" stroke="#666" stroke-width="0.6"/>
<text x="90.60" y="574.20" font-size="7.8" text-anchor="middle" fill="#2b2b2b">38.5</text>
<line x1="156.90" y1="561.60" x2="156.90" y2="563.60" stroke="#666" stroke-width="0.6"/>
<text x="156.90" y="574.20" font-size="7.8" text-anchor="middle" fill="#2b2b2b">38.6</text>
<line x1="223.90" y1="561.60" x2="223.90" y2="563.60" stroke="#666" stroke-width="0.6"/>
<text x="223.90" y="574.20" font-size="7.8" text-anchor="middle" fill="#2b2b2b">38.7</text>
<text x="233.40" y="574.20" font-size="7.8" fill="#2b2b2b">Mb</text>
<text x="17.20" y="531.40" font-size="8.4" text-anchor="middle" fill="#2b2b2b" textLength="23.50" lengthAdjust="spacingAndGlyphs" transform="rotate(-90 17.20 531.40)">Loops</text>
<text x="7.90" y="457.70" font-size="8.4" text-anchor="middle" fill="#2b2b2b" textLength="81.60" lengthAdjust="spacingAndGlyphs" transform="rotate(-90 7.90 457.70)">Normalized H3K27ac</text>
<text x="16.80" y="457.70" font-size="8.4" text-anchor="middle" fill="#2b2b2b" textLength="55.00" lengthAdjust="spacingAndGlyphs" transform="rotate(-90 16.80 457.70)">1D signal (0–1)</text>
<text x="31.4" y="585.2" font-size="8.4" fill="#2b2b2b" textLength="42.9" lengthAdjust="spacingAndGlyphs">−log<tspan font-size="5.6" dy="2">10</tspan><tspan dy="-2">(</tspan><tspan font-style="italic">P</tspan><tspan font-size="5.6" dy="2" font-style="italic">adj</tspan><tspan dy="-2">)</tspan></text>
<defs><linearGradient id="cb" x1="0" x2="1" y1="0" y2="0"><stop offset="0" stop-color="#dbe7f6"/><stop offset="0.3" stop-color="#7aa3dc"/><stop offset="0.55" stop-color="#5b4aa6"/><stop offset="0.75" stop-color="#7b2b86"/><stop offset="1" stop-color="#0d0410"/></linearGradient></defs>
<rect x="37.90" y="591.40" width="29.70" height="7.10" fill="url(#cb)"/>
<line x1="42.40" y1="597.20" x2="42.40" y2="598.50" stroke="#fff" stroke-width="0.4"/>
<text x="42.40" y="605.60" font-size="5.6" text-anchor="middle" fill="#2b2b2b">3</text>
<line x1="47.98" y1="597.20" x2="47.98" y2="598.50" stroke="#fff" stroke-width="0.4"/>
<text x="47.98" y="605.60" font-size="5.6" text-anchor="middle" fill="#2b2b2b">4</text>
<line x1="53.56" y1="597.20" x2="53.56" y2="598.50" stroke="#fff" stroke-width="0.4"/>
<text x="53.56" y="605.60" font-size="5.6" text-anchor="middle" fill="#2b2b2b">5</text>
<line x1="59.14" y1="597.20" x2="59.14" y2="598.50" stroke="#fff" stroke-width="0.4"/>
<text x="59.14" y="605.60" font-size="5.6" text-anchor="middle" fill="#2b2b2b">6</text>
<line x1="64.72" y1="597.20" x2="64.72" y2="598.50" stroke="#fff" stroke-width="0.4"/>
<text x="64.72" y="605.60" font-size="5.6" text-anchor="middle" fill="#2b2b2b">7</text>
<rect x="248.20" y="401.20" width="49.50" height="115.90" fill="#fff"/>
<line x1="254.85" y1="401.20" x2="254.85" y2="517.10" stroke="#f0f0f0" stroke-width="0.6"/>
<line x1="263.95" y1="401.20" x2="263.95" y2="517.10" stroke="#f0f0f0" stroke-width="0.6"/>
<line x1="273.05" y1="401.20" x2="273.05" y2="517.10" stroke="#f0f0f0" stroke-width="0.6"/>
<line x1="282.15" y1="401.20" x2="282.15" y2="517.10" stroke="#f0f0f0" stroke-width="0.6"/>
<line x1="291.25" y1="401.20" x2="291.25" y2="517.10" stroke="#f0f0f0" stroke-width="0.6"/>
<line x1="250.30" y1="401.20" x2="250.30" y2="517.10" stroke="#e6e6e6" stroke-width="0.9"/>
<line x1="259.40" y1="401.20" x2="259.40" y2="517.10" stroke="#e6e6e6" stroke-width="0.9"/>
<line x1="268.50" y1="401.20" x2="268.50" y2="517.10" stroke="#e6e6e6" stroke-width="0.9"/>
<line x1="277.60" y1="401.20" x2="277.60" y2="517.10" stroke="#e6e6e6" stroke-width="0.9"/>
<line x1="286.70" y1="401.20" x2="286.70" y2="517.10" stroke="#e6e6e6" stroke-width="0.9"/>
<line x1="295.80" y1="401.20" x2="295.80" y2="517.10" stroke="#e6e6e6" stroke-width="0.9"/>
<line x1="248.20" y1="417.90" x2="297.70" y2="417.90" stroke="#e6e6e6" stroke-width="0.9"/>
<line x1="248.20" y1="445.60" x2="297.70" y2="445.60" stroke="#e6e6e6" stroke-width="0.9"/>
<line x1="248.20" y1="473.10" x2="297.70" y2="473.10" stroke="#e6e6e6" stroke-width="0.9"/>
<line x1="248.20" y1="500.70" x2="297.70" y2="500.70" stroke="#e6e6e6" stroke-width="0.9"/>
<rect x="250.30" y="409.80" width="45.23" height="16.20" fill="#6a4c9c"/>
<rect x="250.30" y="437.50" width="23.84" height="16.20" fill="#7f7f7f"/>
<rect x="250.30" y="465.00" width="17.20" height="16.20" fill="#7f7f7f"/>
<rect x="248.20" y="401.20" width="49.50" height="115.90" fill="none" stroke="#666" stroke-width="0.8"/>
<line x1="250.30" y1="517.10" x2="250.30" y2="519.10" stroke="#555" stroke-width="0.6"/>
<text x="250.30" y="527.70" font-size="7.4" text-anchor="middle" fill="#333">0</text>
<line x1="259.40" y1="517.10" x2="259.40" y2="519.10" stroke="#555" stroke-width="0.6"/>
<text x="259.40" y="527.70" font-size="7.4" text-anchor="middle" fill="#333">1</text>
<line x1="268.50" y1="517.10" x2="268.50" y2="519.10" stroke="#555" stroke-width="0.6"/>
<text x="268.50" y="527.70" font-size="7.4" text-anchor="middle" fill="#333">2</text>
<line x1="277.60" y1="517.10" x2="277.60" y2="519.10" stroke="#555" stroke-width="0.6"/>
<text x="277.60" y="527.70" font-size="7.4" text-anchor="middle" fill="#333">3</text>
<line x1="286.70" y1="517.10" x2="286.70" y2="519.10" stroke="#555" stroke-width="0.6"/>
<text x="286.70" y="527.70" font-size="7.4" text-anchor="middle" fill="#333">4</text>
<line x1="295.80" y1="517.10" x2="295.80" y2="519.10" stroke="#555" stroke-width="0.6"/>
<text x="295.80" y="527.70" font-size="7.4" text-anchor="middle" fill="#333">5</text>
<text x="272.80" y="386.70" font-size="8.4" text-anchor="middle" fill="#2b2b2b" font-style="italic">FGFR1</text>
<text x="272.80" y="396.60" font-size="8.4" text-anchor="middle" fill="#2b2b2b">P–E</text>
<rect x="307.80" y="401.20" width="51.10" height="115.90" fill="#fff"/>
<line x1="315.70" y1="401.20" x2="315.70" y2="517.10" stroke="#f0f0f0" stroke-width="0.6"/>
<line x1="326.70" y1="401.20" x2="326.70" y2="517.10" stroke="#f0f0f0" stroke-width="0.6"/>
<line x1="337.70" y1="401.20" x2="337.70" y2="517.10" stroke="#f0f0f0" stroke-width="0.6"/>
<line x1="348.70" y1="401.20" x2="348.70" y2="517.10" stroke="#f0f0f0" stroke-width="0.6"/>
<line x1="310.20" y1="401.20" x2="310.20" y2="517.10" stroke="#e6e6e6" stroke-width="0.9"/>
<line x1="321.20" y1="401.20" x2="321.20" y2="517.10" stroke="#e6e6e6" stroke-width="0.9"/>
<line x1="332.20" y1="401.20" x2="332.20" y2="517.10" stroke="#e6e6e6" stroke-width="0.9"/>
<line x1="343.20" y1="401.20" x2="343.20" y2="517.10" stroke="#e6e6e6" stroke-width="0.9"/>
<line x1="354.20" y1="401.20" x2="354.20" y2="517.10" stroke="#e6e6e6" stroke-width="0.9"/>
<line x1="307.80" y1="417.90" x2="358.90" y2="417.90" stroke="#e6e6e6" stroke-width="0.9"/>
<line x1="307.80" y1="445.60" x2="358.90" y2="445.60" stroke="#e6e6e6" stroke-width="0.9"/>
<line x1="307.80" y1="473.10" x2="358.90" y2="473.10" stroke="#e6e6e6" stroke-width="0.9"/>
<line x1="307.80" y1="500.70" x2="358.90" y2="500.70" stroke="#e6e6e6" stroke-width="0.9"/>
<rect x="310.20" y="409.80" width="46.59" height="16.20" fill="#6a4c9c"/>
<rect x="310.20" y="437.50" width="40.98" height="16.20" fill="#7f7f7f"/>
<rect x="310.20" y="465.00" width="31.13" height="16.20" fill="#7f7f7f"/>
<rect x="310.20" y="492.60" width="21.01" height="16.20" fill="#7f7f7f"/>
<rect x="307.80" y="401.20" width="51.10" height="115.90" fill="none" stroke="#666" stroke-width="0.8"/>
<line x1="310.20" y1="517.10" x2="310.20" y2="519.10" stroke="#555" stroke-width="0.6"/>
<text x="310.20" y="527.70" font-size="7.4" text-anchor="middle" fill="#333">0</text>
<line x1="321.20" y1="517.10" x2="321.20" y2="519.10" stroke="#555" stroke-width="0.6"/>
<text x="321.20" y="527.70" font-size="7.4" text-anchor="middle" fill="#333">2</text>
<line x1="332.20" y1="517.10" x2="332.20" y2="519.10" stroke="#555" stroke-width="0.6"/>
<text x="332.20" y="527.70" font-size="7.4" text-anchor="middle" fill="#333">4</text>
<line x1="343.20" y1="517.10" x2="343.20" y2="519.10" stroke="#555" stroke-width="0.6"/>
<text x="343.20" y="527.70" font-size="7.4" text-anchor="middle" fill="#333">6</text>
<line x1="354.20" y1="517.10" x2="354.20" y2="519.10" stroke="#555" stroke-width="0.6"/>
<text x="354.20" y="527.70" font-size="7.4" text-anchor="middle" fill="#333">8</text>
<text x="333.40" y="386.70" font-size="8.4" text-anchor="middle" fill="#2b2b2b" font-style="italic">FGFR1</text>
<text x="333.40" y="396.60" font-size="8.4" text-anchor="middle" fill="#2b2b2b">enhancer</text>
<rect x="370.20" y="401.20" width="52.50" height="115.90" fill="#fff"/>
<line x1="382.75" y1="401.20" x2="382.75" y2="517.10" stroke="#f0f0f0" stroke-width="0.6"/>
<line x1="402.25" y1="401.20" x2="402.25" y2="517.10" stroke="#f0f0f0" stroke-width="0.6"/>
<line x1="421.75" y1="401.20" x2="421.75" y2="517.10" stroke="#f0f0f0" stroke-width="0.6"/>
<line x1="373.00" y1="401.20" x2="373.00" y2="517.10" stroke="#e6e6e6" stroke-width="0.9"/>
<line x1="392.50" y1="401.20" x2="392.50" y2="517.10" stroke="#e6e6e6" stroke-width="0.9"/>
<line x1="412.00" y1="401.20" x2="412.00" y2="517.10" stroke="#e6e6e6" stroke-width="0.9"/>
<line x1="370.20" y1="417.90" x2="422.70" y2="417.90" stroke="#e6e6e6" stroke-width="0.9"/>
<line x1="370.20" y1="445.60" x2="422.70" y2="445.60" stroke="#e6e6e6" stroke-width="0.9"/>
<line x1="370.20" y1="473.10" x2="422.70" y2="473.10" stroke="#e6e6e6" stroke-width="0.9"/>
<line x1="370.20" y1="500.70" x2="422.70" y2="500.70" stroke="#e6e6e6" stroke-width="0.9"/>
<rect x="373.00" y="409.80" width="46.80" height="16.20" fill="#6a4c9c"/>
<rect x="373.00" y="437.50" width="42.12" height="16.20" fill="#7f7f7f"/>
<rect x="373.00" y="465.00" width="38.61" height="16.20" fill="#7f7f7f"/>
<rect x="373.00" y="492.60" width="31.98" height="16.20" fill="#7f7f7f"/>
<rect x="370.20" y="401.20" width="52.50" height="115.90" fill="none" stroke="#666" stroke-width="0.8"/>
<line x1="373.00" y1="517.10" x2="373.00" y2="519.10" stroke="#555" stroke-width="0.6"/>
<text x="373.00" y="527.70" font-size="7.4" text-anchor="middle" fill="#333">0</text>
<line x1="392.50" y1="517.10" x2="392.50" y2="519.10" stroke="#555" stroke-width="0.6"/>
<text x="392.50" y="527.70" font-size="7.4" text-anchor="middle" fill="#333">0.5</text>
<line x1="412.00" y1="517.10" x2="412.00" y2="519.10" stroke="#555" stroke-width="0.6"/>
<text x="412.00" y="527.70" font-size="7.4" text-anchor="middle" fill="#333">1.0</text>
<text x="396.40" y="386.70" font-size="8.4" text-anchor="middle" fill="#2b2b2b" font-style="italic">FGFR1</text>
<text x="396.40" y="396.60" font-size="8.4" text-anchor="middle" fill="#2b2b2b">CN</text>
<rect x="432.50" y="401.20" width="51.10" height="115.90" fill="#fff"/>
<line x1="441.15" y1="401.20" x2="441.15" y2="517.10" stroke="#f0f0f0" stroke-width="0.6"/>
<line x1="452.45" y1="401.20" x2="452.45" y2="517.10" stroke="#f0f0f0" stroke-width="0.6"/>
<line x1="463.75" y1="401.20" x2="463.75" y2="517.10" stroke="#f0f0f0" stroke-width="0.6"/>
<line x1="475.05" y1="401.20" x2="475.05" y2="517.10" stroke="#f0f0f0" stroke-width="0.6"/>
<line x1="435.50" y1="401.20" x2="435.50" y2="517.10" stroke="#e6e6e6" stroke-width="0.9"/>
<line x1="446.80" y1="401.20" x2="446.80" y2="517.10" stroke="#e6e6e6" stroke-width="0.9"/>
<line x1="458.10" y1="401.20" x2="458.10" y2="517.10" stroke="#e6e6e6" stroke-width="0.9"/>
<line x1="469.40" y1="401.20" x2="469.40" y2="517.10" stroke="#e6e6e6" stroke-width="0.9"/>
<line x1="432.50" y1="417.90" x2="483.60" y2="417.90" stroke="#e6e6e6" stroke-width="0.9"/>
<line x1="432.50" y1="445.60" x2="483.60" y2="445.60" stroke="#e6e6e6" stroke-width="0.9"/>
<line x1="432.50" y1="473.10" x2="483.60" y2="473.10" stroke="#e6e6e6" stroke-width="0.9"/>
<line x1="432.50" y1="500.70" x2="483.60" y2="500.70" stroke="#e6e6e6" stroke-width="0.9"/>
<rect x="435.50" y="409.80" width="45.43" height="16.20" fill="#6a4c9c"/>
<rect x="435.50" y="437.50" width="3.05" height="16.20" fill="#7f7f7f"/>
<rect x="435.50" y="465.00" width="2.03" height="16.20" fill="#7f7f7f"/>
<rect x="435.50" y="492.60" width="0.90" height="16.20" fill="#7f7f7f"/>
<rect x="432.50" y="401.20" width="51.10" height="115.90" fill="none" stroke="#666" stroke-width="0.8"/>
<line x1="435.50" y1="517.10" x2="435.50" y2="519.10" stroke="#555" stroke-width="0.6"/>
<text x="435.50" y="527.70" font-size="7.4" text-anchor="middle" fill="#333">0</text>
<line x1="446.80" y1="517.10" x2="446.80" y2="519.10" stroke="#555" stroke-width="0.6"/>
<text x="446.80" y="527.70" font-size="7.4" text-anchor="middle" fill="#333">10</text>
<line x1="458.10" y1="517.10" x2="458.10" y2="519.10" stroke="#555" stroke-width="0.6"/>
<text x="458.10" y="527.70" font-size="7.4" text-anchor="middle" fill="#333">20</text>
<line x1="469.40" y1="517.10" x2="469.40" y2="519.10" stroke="#555" stroke-width="0.6"/>
<text x="469.40" y="527.70" font-size="7.4" text-anchor="middle" fill="#333">30</text>
<text x="456.00" y="386.70" font-size="8.4" text-anchor="middle" fill="#2b2b2b" font-style="italic">FGFR1</text>
<text x="456.00" y="396.60" font-size="8.4" text-anchor="middle" fill="#2b2b2b">RNA</text>
<text x="495.80" y="396.80" font-size="13" font-weight="bold" fill="#000" stroke="#000" stroke-width="0.35">h</text>
<text x="525.1" y="395.2" font-size="8.4" fill="#2b2b2b" textLength="159.5" lengthAdjust="spacingAndGlyphs"><tspan font-style="italic">FGFR1</tspan> enhancer (Chr8: 38,553,516-C&gt;T)</text>
<rect x="537.50" y="399.50" width="137.00" height="125.00" fill="#fff"/>
<line x1="543.68" y1="399.50" x2="543.68" y2="524.50" stroke="#f2f2f2" stroke-width="0.6"/>
<line x1="585.03" y1="399.50" x2="585.03" y2="524.50" stroke="#f2f2f2" stroke-width="0.6"/>
<line x1="626.38" y1="399.50" x2="626.38" y2="524.50" stroke="#f2f2f2" stroke-width="0.6"/>
<line x1="667.73" y1="399.50" x2="667.73" y2="524.50" stroke="#f2f2f2" stroke-width="0.6"/>
<line x1="537.50" y1="410.93" x2="674.50" y2="410.93" stroke="#f2f2f2" stroke-width="0.6"/>
<line x1="537.50" y1="443.18" x2="674.50" y2="443.18" stroke="#f2f2f2" stroke-width="0.6"/>
<line x1="537.50" y1="475.43" x2="674.50" y2="475.43" stroke="#f2f2f2" stroke-width="0.6"/>
<line x1="537.50" y1="507.68" x2="674.50" y2="507.68" stroke="#f2f2f2" stroke-width="0.6"/>
<line x1="564.35" y1="399.50" x2="564.35" y2="524.50" stroke="#e5e5e5" stroke-width="1.0"/>
<line x1="605.70" y1="399.50" x2="605.70" y2="524.50" stroke="#e5e5e5" stroke-width="1.0"/>
<line x1="647.05" y1="399.50" x2="647.05" y2="524.50" stroke="#e5e5e5" stroke-width="1.0"/>
<line x1="537.50" y1="427.05" x2="674.50" y2="427.05" stroke="#e5e5e5" stroke-width="1.0"/>
<line x1="537.50" y1="459.30" x2="674.50" y2="459.30" stroke="#e5e5e5" stroke-width="1.0"/>
<line x1="537.50" y1="491.55" x2="674.50" y2="491.55" stroke="#e5e5e5" stroke-width="1.0"/>
<line x1="537.50" y1="523.80" x2="674.50" y2="523.80" stroke="#e5e5e5" stroke-width="1.0"/>
<circle cx="619.75" cy="404.91" r="1.15" fill="#000"/>
<circle cx="577.90" cy="408.88" r="1.15" fill="#000"/>
<circle cx="590.45" cy="409.51" r="1.15" fill="#000"/>
<circle cx="599.45" cy="407.83" r="1.15" fill="#000"/>
<circle cx="601.96" cy="410.97" r="1.15" fill="#000"/>
<circle cx="604.05" cy="410.55" r="1.15" fill="#000"/>
<circle cx="609.28" cy="413.07" r="1.15" fill="#000"/>
<circle cx="585.22" cy="414.32" r="1.15" fill="#000"/>
<circle cx="588.36" cy="416.41" r="1.15" fill="#000"/>
<circle cx="592.54" cy="412.65" r="1.15" fill="#000"/>
<circle cx="595.68" cy="418.51" r="1.15" fill="#000"/>
<circle cx="591.92" cy="417.25" r="1.15" fill="#000"/>
<circle cx="600.91" cy="418.51" r="1.15" fill="#000"/>
<circle cx="604.47" cy="417.88" r="1.15" fill="#000"/>
<circle cx="605.10" cy="418.92" r="1.15" fill="#000"/>
<circle cx="558.02" cy="424.78" r="1.15" fill="#000"/>
<circle cx="561.78" cy="422.48" r="1.15" fill="#000"/>
<circle cx="564.29" cy="422.06" r="1.15" fill="#000"/>
<circle cx="565.34" cy="425.83" r="1.15" fill="#000"/>
<circle cx="570.15" cy="426.25" r="1.15" fill="#000"/>
<circle cx="575.18" cy="422.06" r="1.15" fill="#000"/>
<circle cx="596.94" cy="424.78" r="1.15" fill="#000"/>
<circle cx="597.77" cy="424.16" r="1.15" fill="#000"/>
<circle cx="595.26" cy="422.06" r="1.15" fill="#000"/>
<circle cx="605.10" cy="425.20" r="1.15" fill="#000"/>
<circle cx="610.75" cy="426.25" r="1.15" fill="#000"/>
<circle cx="610.33" cy="429.39" r="1.15" fill="#000"/>
<circle cx="579.99" cy="429.39" r="1.15" fill="#000"/>
<circle cx="597.77" cy="431.48" r="1.15" fill="#000"/>
<circle cx="578.94" cy="433.99" r="1.15" fill="#000"/>
<circle cx="606.77" cy="433.99" r="1.15" fill="#000"/>
<circle cx="616.61" cy="434.62" r="1.15" fill="#000"/>
<circle cx="617.65" cy="436.71" r="1.15" fill="#000"/>
<circle cx="619.75" cy="431.90" r="1.15" fill="#000"/>
<circle cx="628.12" cy="435.66" r="1.15" fill="#000"/>
<circle cx="631.67" cy="433.99" r="1.15" fill="#000"/>
<circle cx="627.70" cy="438.80" r="1.15" fill="#000"/>
<circle cx="578.94" cy="442.36" r="1.15" fill="#000"/>
<circle cx="587.31" cy="441.52" r="1.15" fill="#000"/>
<circle cx="594.01" cy="440.27" r="1.15" fill="#000"/>
<circle cx="595.68" cy="437.34" r="1.15" fill="#000"/>
<circle cx="597.77" cy="442.36" r="1.15" fill="#000"/>
<circle cx="598.82" cy="443.62" r="1.15" fill="#000"/>
<circle cx="619.33" cy="443.62" r="1.15" fill="#000"/>
<circle cx="627.07" cy="442.99" r="1.15" fill="#000"/>
<circle cx="588.36" cy="446.13" r="1.15" fill="#000"/>
<circle cx="588.99" cy="447.80" r="1.15" fill="#000"/>
<circle cx="598.40" cy="446.55" r="1.15" fill="#000"/>
<circle cx="577.90" cy="448.85" r="1.15" fill="#000"/>
<circle cx="600.29" cy="450.31" r="1.15" fill="#000"/>
<circle cx="604.05" cy="451.99" r="1.15" fill="#000"/>
<circle cx="606.77" cy="451.36" r="1.15" fill="#000"/>
<circle cx="626.02" cy="447.17" r="1.15" fill="#000"/>
<circle cx="645.27" cy="446.55" r="1.15" fill="#000"/>
<circle cx="621.21" cy="452.82" r="1.15" fill="#000"/>
<circle cx="622.47" cy="451.99" r="1.15" fill="#000"/>
<circle cx="624.98" cy="454.50" r="1.15" fill="#000"/>
<circle cx="575.80" cy="454.92" r="1.15" fill="#000"/>
<circle cx="600.91" cy="454.08" r="1.15" fill="#000"/>
<circle cx="584.80" cy="458.05" r="1.15" fill="#000"/>
<circle cx="615.98" cy="457.22" r="1.15" fill="#000"/>
<circle cx="622.47" cy="457.22" r="1.15" fill="#000"/>
<circle cx="632.72" cy="457.64" r="1.15" fill="#000"/>
<circle cx="598.82" cy="461.19" r="1.15" fill="#000"/>
<circle cx="601.54" cy="460.36" r="1.15" fill="#000"/>
<circle cx="603.63" cy="463.91" r="1.15" fill="#000"/>
<circle cx="605.73" cy="466.01" r="1.15" fill="#000"/>
<circle cx="586.89" cy="469.56" r="1.15" fill="#000"/>
<circle cx="591.92" cy="468.10" r="1.15" fill="#000"/>
<circle cx="598.82" cy="467.05" r="1.15" fill="#000"/>
<circle cx="629.58" cy="464.96" r="1.15" fill="#000"/>
<circle cx="618.70" cy="468.10" r="1.15" fill="#000"/>
<circle cx="615.56" cy="472.28" r="1.15" fill="#000"/>
<circle cx="622.47" cy="470.61" r="1.15" fill="#000"/>
<circle cx="623.93" cy="470.19" r="1.15" fill="#000"/>
<circle cx="626.02" cy="471.66" r="1.15" fill="#000"/>
<circle cx="628.74" cy="477.72" r="1.15" fill="#000"/>
<circle cx="623.93" cy="485.88" r="1.15" fill="#000"/>
<circle cx="579.99" cy="511.41" r="1.15" fill="#000"/>
<circle cx="585.22" cy="519.36" r="1.15" fill="#000"/>
<circle cx="607.61" cy="519.36" r="1.15" fill="#000"/>
<circle cx="632.70" cy="409.50" r="1.2" fill="#e8333b"/>
<circle cx="623.40" cy="417.10" r="1.2" fill="#e8333b"/>
<rect x="537.50" y="399.50" width="137.00" height="125.00" fill="none" stroke="#6a6a6a" stroke-width="0.8"/>
<text x="630.00" y="406.90" font-size="8.8" fill="#d8434c" textLength="32.60" lengthAdjust="spacingAndGlyphs">TFCP2L1</text>
<text x="622.80" y="427.90" font-size="8.8" fill="#d8434c" textLength="28.40" lengthAdjust="spacingAndGlyphs">TCF7L2</text>
<line x1="564.35" y1="524.50" x2="564.35" y2="526.50" stroke="#6a6a6a" stroke-width="0.6"/>
<text x="564.35" y="537.60" font-size="7.4" text-anchor="middle" fill="#333">−10</text>
<line x1="605.70" y1="524.50" x2="605.70" y2="526.50" stroke="#6a6a6a" stroke-width="0.6"/>
<text x="605.70" y="537.60" font-size="7.4" text-anchor="middle" fill="#333">0</text>
<line x1="647.05" y1="524.50" x2="647.05" y2="526.50" stroke="#6a6a6a" stroke-width="0.6"/>
<text x="647.05" y="537.60" font-size="7.4" text-anchor="middle" fill="#333">10</text>
<line x1="535.50" y1="427.05" x2="537.50" y2="427.05" stroke="#6a6a6a" stroke-width="0.6"/>
<text x="532.60" y="429.65" font-size="7.4" text-anchor="end" fill="#333">2.5</text>
<line x1="535.50" y1="459.30" x2="537.50" y2="459.30" stroke="#6a6a6a" stroke-width="0.6"/>
<text x="532.60" y="461.90" font-size="7.4" text-anchor="end" fill="#333">0</text>
<line x1="535.50" y1="491.55" x2="537.50" y2="491.55" stroke="#6a6a6a" stroke-width="0.6"/>
<text x="532.60" y="494.15" font-size="7.4" text-anchor="end" fill="#333">−2.5</text>
<line x1="535.50" y1="523.80" x2="537.50" y2="523.80" stroke="#6a6a6a" stroke-width="0.6"/>
<text x="532.60" y="526.40" font-size="7.4" text-anchor="end" fill="#333">−5.0</text>
<text x="605.60" y="549.60" font-size="8.4" text-anchor="middle" fill="#2b2b2b" textLength="132.00" lengthAdjust="spacingAndGlyphs">Motif enrichment score in mutant</text>
<text x="500.00" y="462.60" font-size="8.4" text-anchor="middle" fill="#2b2b2b" textLength="87.00" lengthAdjust="spacingAndGlyphs" transform="rotate(-90 500.00 462.60)">Motif score difference</text>
<text x="509.00" y="462.60" font-size="8.4" text-anchor="middle" fill="#2b2b2b" textLength="75.00" lengthAdjust="spacingAndGlyphs" transform="rotate(-90 509.00 462.60)">(mutant–wild type)</text>
<text x="249.10" y="545.60" font-size="13" font-weight="bold" fill="#000" stroke="#000" stroke-width="0.35">i</text>
<text x="389.50" y="548.30" font-size="8.2" text-anchor="middle" fill="#2b2b2b" textLength="56.20" lengthAdjust="spacingAndGlyphs">TFCP2L1 motif</text>
<line x1="289.30" y1="544.90" x2="289.30" y2="604.40" stroke="#555" stroke-width="0.7"/>
<line x1="286.30" y1="545.30" x2="289.30" y2="545.30" stroke="#555" stroke-width="0.7"/>
<text x="282.40" y="547.90" font-size="7.6" text-anchor="end" fill="#333">2</text>
<line x1="286.30" y1="559.98" x2="289.30" y2="559.98" stroke="#555" stroke-width="0.7"/>
<text x="282.40" y="562.58" font-size="7.6" text-anchor="end" fill="#333">1.5</text>
<line x1="286.30" y1="574.65" x2="289.30" y2="574.65" stroke="#555" stroke-width="0.7"/>
<text x="282.40" y="577.25" font-size="7.6" text-anchor="end" fill="#333">1</text>
<line x1="286.30" y1="589.33" x2="289.30" y2="589.33" stroke="#555" stroke-width="0.7"/>
<text x="282.40" y="591.93" font-size="7.6" text-anchor="end" fill="#333">0.5</text>
<line x1="286.30" y1="604.00" x2="289.30" y2="604.00" stroke="#555" stroke-width="0.7"/>
<text x="282.40" y="606.60" font-size="7.6" text-anchor="end" fill="#333">0</text>
<text x="256.40" y="575.00" font-size="8.4" text-anchor="middle" fill="#2b2b2b" textLength="46.50" lengthAdjust="spacingAndGlyphs" transform="rotate(-90 256.40 575.00)">Information</text>
<text x="266.80" y="574.60" font-size="8.4" text-anchor="middle" fill="#2b2b2b" textLength="29.70" lengthAdjust="spacingAndGlyphs" transform="rotate(-90 266.80 574.60)">content</text>
<path d="M299.80 604.00 L310.60 602.00 L316.00 602.00 L326.80 604.00 L321.40 604.00 L313.30 602.60 L305.20 604.00 Z" fill="#6cc24a"/>
<rect x="306.01" y="603.16" width="14.58" height="0.50" fill="#6cc24a"/>
<path d="M323.94 600.87 A13.50 0.70 0 1 0 323.94 601.73 L319.68 601.56 A8.10 0.42 0 1 1 319.68 601.04 Z" fill="#3a8fd6"/>
<path d="M324.99 599.25 A13.50 0.90 0 1 0 324.99 600.15 L320.31 599.97 A8.10 0.54 0 1 1 320.31 599.43 Z" fill="#f2c01e"/>
<rect x="314.38" y="599.81" width="12.42" height="0.32" fill="#f2c01e"/>
<rect x="321.40" y="599.81" width="5.40" height="0.72" fill="#f2c01e"/>
<rect x="299.80" y="568.70" width="27.00" height="3.31" fill="#dd4b65"/>
<rect x="310.19" y="568.70" width="6.21" height="30.10" fill="#dd4b65"/>
<path d="M328.20 604.00 L339.00 601.20 L344.40 601.20 L355.20 604.00 L349.80 604.00 L341.70 602.04 L333.60 604.00 Z" fill="#6cc24a"/>
<rect x="334.41" y="602.82" width="14.58" height="0.50" fill="#6cc24a"/>
<path d="M352.34 596.68 A13.50 2.80 0 1 0 352.34 600.12 L348.08 599.43 A8.10 1.68 0 1 1 348.08 597.37 Z" fill="#3a8fd6"/>
<rect x="328.20" y="589.60" width="27.00" height="2.00" fill="#e06a80"/>
<rect x="338.59" y="589.60" width="6.21" height="6.00" fill="#e06a80"/>
<rect x="356.50" y="602.20" width="27.00" height="1.60" fill="#f2d36a"/>
<rect x="356.50" y="553.20" width="27.00" height="5.39" fill="#dd4b65"/>
<rect x="366.89" y="553.20" width="6.21" height="49.00" fill="#dd4b65"/>
<rect x="385.00" y="603.10" width="27.00" height="0.90" fill="#f2c01e"/>
<path d="M385.00 603.10 L395.80 594.30 L401.20 594.30 L412.00 603.10 L406.60 603.10 L398.50 596.94 L390.40 603.10 Z" fill="#6cc24a"/>
<rect x="391.21" y="599.40" width="14.58" height="1.41" fill="#6cc24a"/>
<path d="M409.14 578.71 A13.50 9.65 0 1 0 409.14 590.59 L404.88 588.21 A8.10 5.79 0 1 1 404.88 581.09 Z" fill="#3a8fd6"/>
<rect x="413.10" y="601.80" width="27.00" height="2.00" fill="#f2d36a"/>
<rect x="413.10" y="553.20" width="27.00" height="5.35" fill="#dd4b65"/>
<rect x="423.50" y="553.20" width="6.21" height="48.60" fill="#dd4b65"/>
<rect x="441.60" y="603.00" width="27.00" height="1.00" fill="#9fc7ea"/>
<path d="M441.60 603.00 L452.40 597.60 L457.80 597.60 L468.60 603.00 L463.20 603.00 L455.10 599.22 L447.00 603.00 Z" fill="#6cc24a"/>
<rect x="447.81" y="600.73" width="14.58" height="0.86" fill="#6cc24a"/>
<path d="M466.79 575.18 A13.50 14.95 0 1 0 466.79 590.13 L462.11 587.14 A8.10 8.97 0 1 1 462.11 578.17 Z" fill="#f2c01e"/>
<rect x="456.18" y="584.44" width="12.42" height="5.38" fill="#f2c01e"/>
<rect x="463.20" y="584.44" width="5.40" height="11.96" fill="#f2c01e"/>
<rect x="469.90" y="602.60" width="27.00" height="1.20" fill="#b9e0a8"/>
<path d="M494.04 595.50 A13.50 3.90 0 1 0 494.04 600.30 L489.78 599.34 A8.10 2.34 0 1 1 489.78 596.46 Z" fill="#3a8fd6"/>
<path d="M495.09 588.30 A13.50 3.80 0 1 0 495.09 592.10 L490.41 591.34 A8.10 2.28 0 1 1 490.41 589.06 Z" fill="#f2c01e"/>
<rect x="484.48" y="590.66" width="12.42" height="1.37" fill="#f2c01e"/>
<rect x="491.50" y="590.66" width="5.40" height="3.04" fill="#f2c01e"/>
<line x1="469.90" y1="601.90" x2="496.90" y2="601.90" stroke="#f08a9a" stroke-width="0.5"/>
<line x1="313.30" y1="607.20" x2="483.40" y2="607.20" stroke="#555" stroke-width="0.7"/>
<line x1="313.30" y1="607.20" x2="313.30" y2="609.30" stroke="#555" stroke-width="0.7"/>
<text x="313.30" y="620.60" font-size="7.6" text-anchor="middle" fill="#333">C</text>
<line x1="341.70" y1="607.20" x2="341.70" y2="609.30" stroke="#555" stroke-width="0.7"/>
<text x="341.70" y="620.60" font-size="7.6" text-anchor="middle" fill="#333">C</text>
<line x1="370.00" y1="607.20" x2="370.00" y2="609.30" stroke="#555" stroke-width="0.7"/>
<text x="370.00" y="620.60" font-size="7.6" text-anchor="middle" fill="#e0606f">T</text>
<line x1="398.50" y1="607.20" x2="398.50" y2="609.30" stroke="#555" stroke-width="0.7"/>
<text x="398.50" y="620.60" font-size="7.6" text-anchor="middle" fill="#333">C</text>
<line x1="426.60" y1="607.20" x2="426.60" y2="609.30" stroke="#555" stroke-width="0.7"/>
<text x="426.60" y="620.60" font-size="7.6" text-anchor="middle" fill="#333">T</text>
<line x1="455.10" y1="607.20" x2="455.10" y2="609.30" stroke="#555" stroke-width="0.7"/>
<text x="455.10" y="620.60" font-size="7.6" text-anchor="middle" fill="#333">G</text>
<line x1="483.40" y1="607.20" x2="483.40" y2="609.30" stroke="#555" stroke-width="0.7"/>
<text x="483.40" y="620.60" font-size="7.6" text-anchor="middle" fill="#333">C</text>
<text x="272.30" y="620.80" font-size="7.6" fill="#333" textLength="28.40" lengthAdjust="spacingAndGlyphs">Mutant</text>
</svg>
</body></html>
